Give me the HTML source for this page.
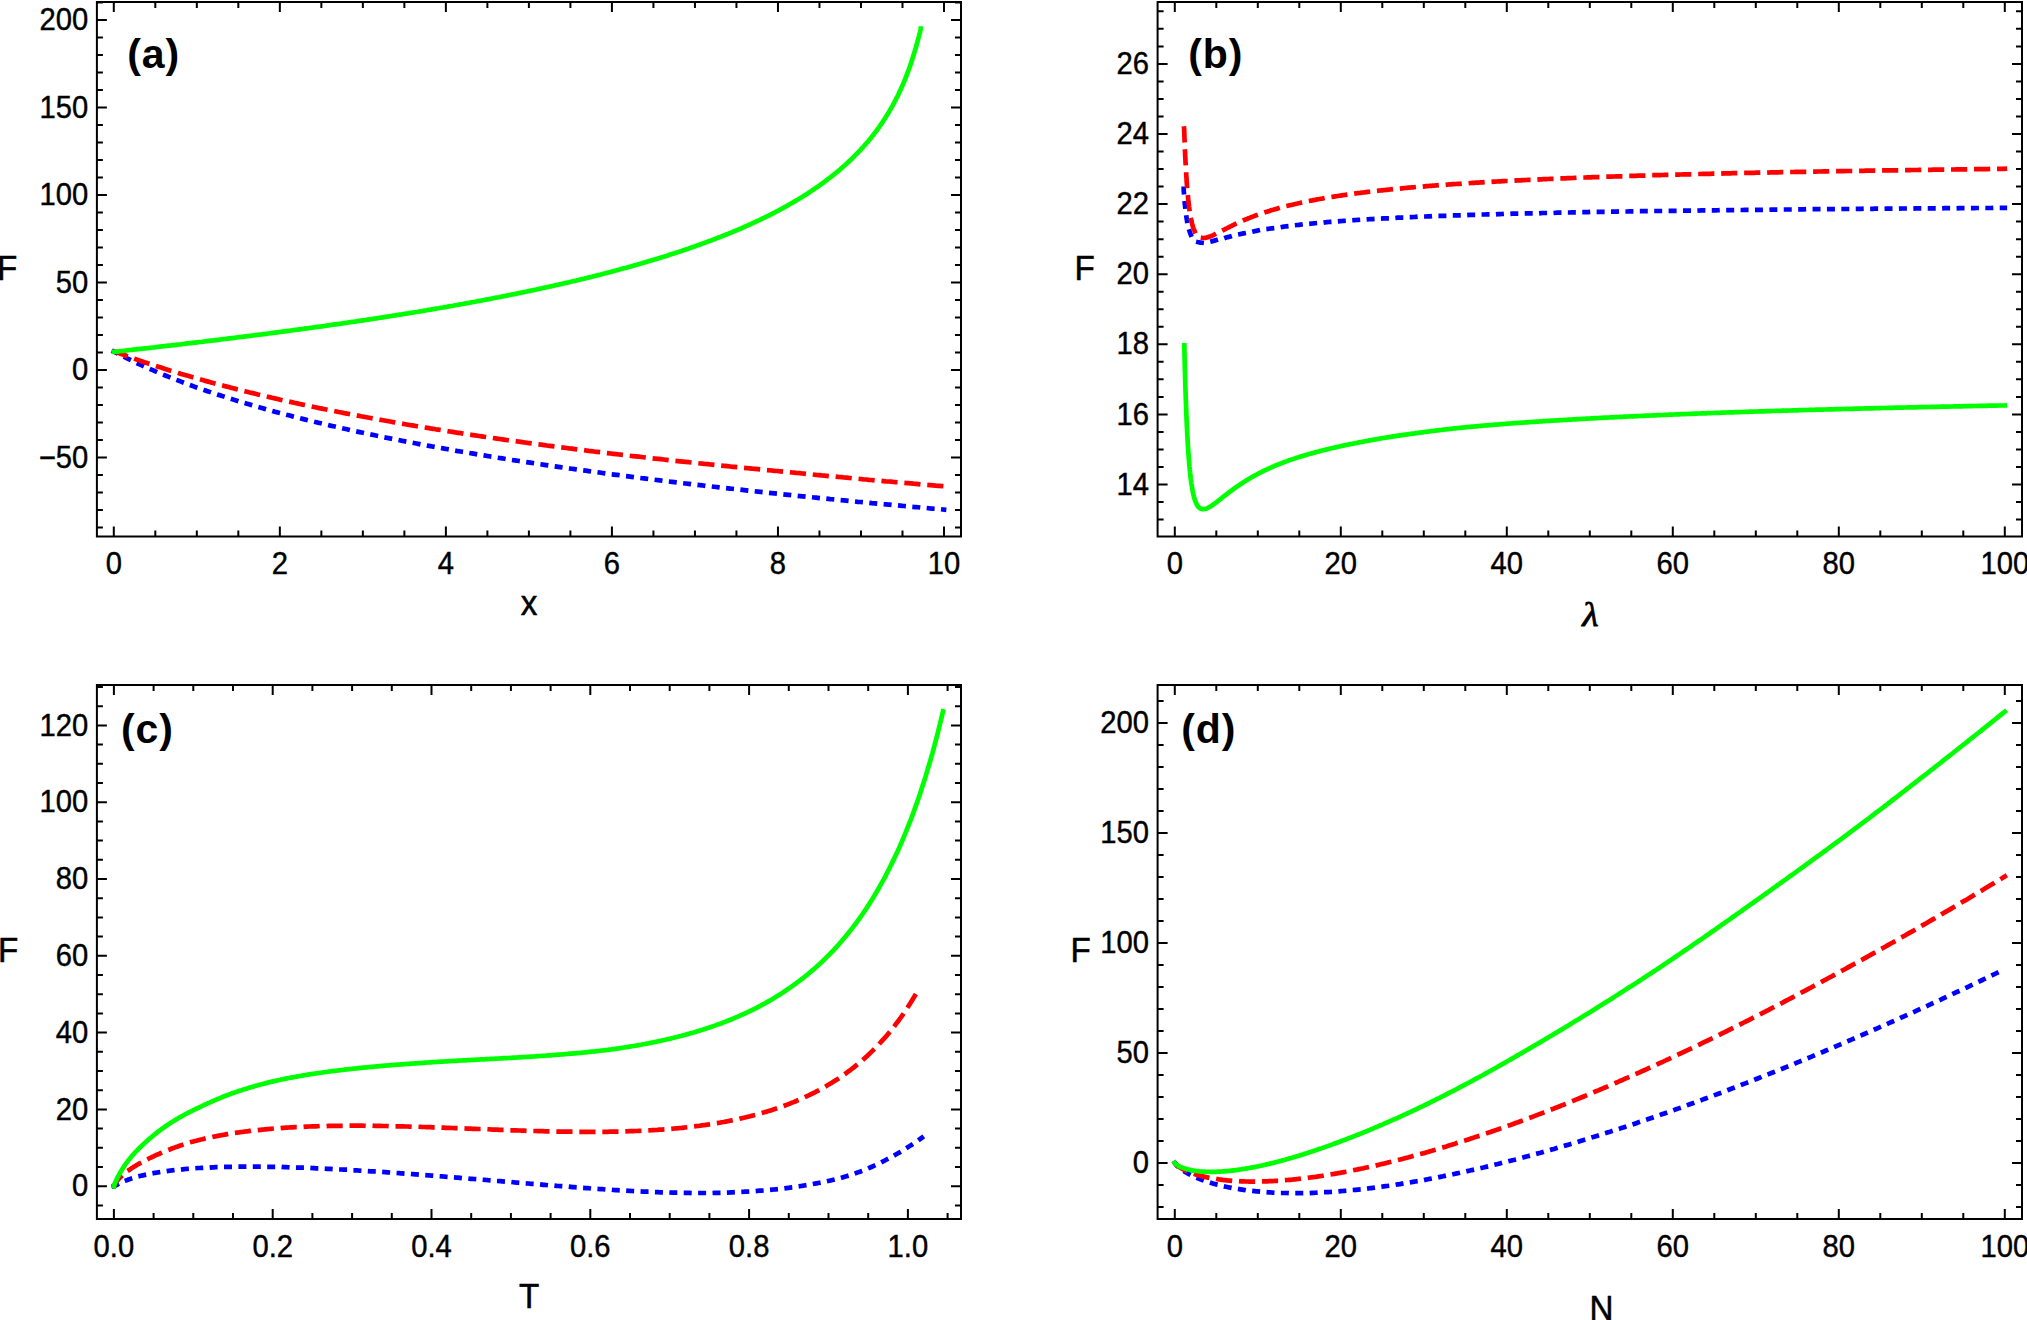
<!DOCTYPE html>
<html><head><meta charset="utf-8"><title>F plots</title>
<style>
html,body{margin:0;padding:0;background:#fff}
body{width:2027px;height:1320px;overflow:hidden}
svg{display:block}
.t{font-family:"Liberation Sans", Arial, Helvetica, sans-serif;font-size:29.2px;fill:#000;stroke:#000;stroke-width:0.4px}
.l{font-family:"Liberation Sans", Arial, Helvetica, sans-serif;font-size:33.2px;fill:#000;stroke:#000;stroke-width:0.5px}
.p{font-family:"Liberation Sans", Arial, Helvetica, sans-serif;font-size:41.0px;font-weight:bold;fill:#000;letter-spacing:0.9px}
.lam{font-family:"Liberation Serif","DejaVu Serif",serif;font-style:italic;font-size:32.8px;fill:#000;stroke:#000;stroke-width:0.8px}
</style></head><body>
<svg width="2027" height="1320" viewBox="0 0 2027 1320">
<rect width="2027" height="1320" fill="#fff"/>
<rect x="96.9" y="2" width="864.1" height="534.5" fill="none" stroke="#000" stroke-width="2"/>
<path d="M113.8 536.5v-10M113.8 2v10M155.31 536.5v-6M155.31 2v6M196.82 536.5v-6M196.82 2v6M238.33 536.5v-6M238.33 2v6M279.84 536.5v-10M279.84 2v10M321.35 536.5v-6M321.35 2v6M362.86 536.5v-6M362.86 2v6M404.37 536.5v-6M404.37 2v6M445.88 536.5v-10M445.88 2v10M487.39 536.5v-6M487.39 2v6M528.9 536.5v-6M528.9 2v6M570.41 536.5v-6M570.41 2v6M611.92 536.5v-10M611.92 2v10M653.43 536.5v-6M653.43 2v6M694.94 536.5v-6M694.94 2v6M736.45 536.5v-6M736.45 2v6M777.96 536.5v-10M777.96 2v10M819.47 536.5v-6M819.47 2v6M860.98 536.5v-6M860.98 2v6M902.49 536.5v-6M902.49 2v6M944 536.5v-10M944 2v10M96.9 527.5h6M961 527.5h-6M96.9 510h6M961 510h-6M96.9 492.5h6M961 492.5h-6M96.9 475h6M961 475h-6M96.9 457.5h10M961 457.5h-10M96.9 440h6M961 440h-6M96.9 422.5h6M961 422.5h-6M96.9 405h6M961 405h-6M96.9 387.5h6M961 387.5h-6M96.9 370h10M961 370h-10M96.9 352.5h6M961 352.5h-6M96.9 335h6M961 335h-6M96.9 317.5h6M961 317.5h-6M96.9 300h6M961 300h-6M96.9 282.5h10M961 282.5h-10M96.9 265h6M961 265h-6M96.9 247.5h6M961 247.5h-6M96.9 230h6M961 230h-6M96.9 212.5h6M961 212.5h-6M96.9 195h10M961 195h-10M96.9 177.5h6M961 177.5h-6M96.9 160h6M961 160h-6M96.9 142.5h6M961 142.5h-6M96.9 125h6M961 125h-6M96.9 107.5h10M961 107.5h-10M96.9 90h6M961 90h-6M96.9 72.5h6M961 72.5h-6M96.9 55h6M961 55h-6M96.9 37.5h6M961 37.5h-6M96.9 20h10M961 20h-10M96.9 2.5h6M961 2.5h-6" fill="none" stroke="#000" stroke-width="2"/>
<text transform="translate(113.8 574.2) scale(1 1.055)" text-anchor="middle" class="t">0</text>
<text transform="translate(279.84 574.2) scale(1 1.055)" text-anchor="middle" class="t">2</text>
<text transform="translate(445.88 574.2) scale(1 1.055)" text-anchor="middle" class="t">4</text>
<text transform="translate(611.92 574.2) scale(1 1.055)" text-anchor="middle" class="t">6</text>
<text transform="translate(777.96 574.2) scale(1 1.055)" text-anchor="middle" class="t">8</text>
<text transform="translate(944 574.2) scale(1 1.055)" text-anchor="middle" class="t">10</text>
<text transform="translate(88.3 467.6) scale(1 1.055)" text-anchor="end" class="t">−50</text>
<text transform="translate(88.3 380.1) scale(1 1.055)" text-anchor="end" class="t">0</text>
<text transform="translate(88.3 292.6) scale(1 1.055)" text-anchor="end" class="t">50</text>
<text transform="translate(88.3 205.1) scale(1 1.055)" text-anchor="end" class="t">100</text>
<text transform="translate(88.3 117.6) scale(1 1.055)" text-anchor="end" class="t">150</text>
<text transform="translate(88.3 30.1) scale(1 1.055)" text-anchor="end" class="t">200</text>
<rect x="1157.6" y="2" width="864.4" height="534.5" fill="none" stroke="#000" stroke-width="2"/>
<path d="M1174.8 536.5v-10M1174.8 2v10M1216.3 536.5v-6M1216.3 2v6M1257.8 536.5v-6M1257.8 2v6M1299.3 536.5v-6M1299.3 2v6M1340.8 536.5v-10M1340.8 2v10M1382.3 536.5v-6M1382.3 2v6M1423.8 536.5v-6M1423.8 2v6M1465.3 536.5v-6M1465.3 2v6M1506.8 536.5v-10M1506.8 2v10M1548.3 536.5v-6M1548.3 2v6M1589.8 536.5v-6M1589.8 2v6M1631.3 536.5v-6M1631.3 2v6M1672.8 536.5v-10M1672.8 2v10M1714.3 536.5v-6M1714.3 2v6M1755.8 536.5v-6M1755.8 2v6M1797.3 536.5v-6M1797.3 2v6M1838.8 536.5v-10M1838.8 2v10M1880.3 536.5v-6M1880.3 2v6M1921.8 536.5v-6M1921.8 2v6M1963.3 536.5v-6M1963.3 2v6M2004.8 536.5v-10M2004.8 2v10M1157.6 519.55h6M2022 519.55h-6M1157.6 502.02h6M2022 502.02h-6M1157.6 484.5h10M2022 484.5h-10M1157.6 466.97h6M2022 466.97h-6M1157.6 449.45h6M2022 449.45h-6M1157.6 431.92h6M2022 431.92h-6M1157.6 414.4h10M2022 414.4h-10M1157.6 396.88h6M2022 396.88h-6M1157.6 379.35h6M2022 379.35h-6M1157.6 361.82h6M2022 361.82h-6M1157.6 344.3h10M2022 344.3h-10M1157.6 326.77h6M2022 326.77h-6M1157.6 309.25h6M2022 309.25h-6M1157.6 291.73h6M2022 291.73h-6M1157.6 274.2h10M2022 274.2h-10M1157.6 256.67h6M2022 256.67h-6M1157.6 239.15h6M2022 239.15h-6M1157.6 221.62h6M2022 221.62h-6M1157.6 204.1h10M2022 204.1h-10M1157.6 186.58h6M2022 186.58h-6M1157.6 169.05h6M2022 169.05h-6M1157.6 151.52h6M2022 151.52h-6M1157.6 134h10M2022 134h-10M1157.6 116.48h6M2022 116.48h-6M1157.6 98.95h6M2022 98.95h-6M1157.6 81.42h6M2022 81.42h-6M1157.6 63.9h10M2022 63.9h-10M1157.6 46.38h6M2022 46.38h-6M1157.6 28.85h6M2022 28.85h-6M1157.6 11.33h6M2022 11.33h-6" fill="none" stroke="#000" stroke-width="2"/>
<text transform="translate(1174.8 574.2) scale(1 1.055)" text-anchor="middle" class="t">0</text>
<text transform="translate(1340.8 574.2) scale(1 1.055)" text-anchor="middle" class="t">20</text>
<text transform="translate(1506.8 574.2) scale(1 1.055)" text-anchor="middle" class="t">40</text>
<text transform="translate(1672.8 574.2) scale(1 1.055)" text-anchor="middle" class="t">60</text>
<text transform="translate(1838.8 574.2) scale(1 1.055)" text-anchor="middle" class="t">80</text>
<text transform="translate(2004.8 574.2) scale(1 1.055)" text-anchor="middle" class="t">100</text>
<text transform="translate(1149 494.6) scale(1 1.055)" text-anchor="end" class="t">14</text>
<text transform="translate(1149 424.5) scale(1 1.055)" text-anchor="end" class="t">16</text>
<text transform="translate(1149 354.4) scale(1 1.055)" text-anchor="end" class="t">18</text>
<text transform="translate(1149 284.3) scale(1 1.055)" text-anchor="end" class="t">20</text>
<text transform="translate(1149 214.2) scale(1 1.055)" text-anchor="end" class="t">22</text>
<text transform="translate(1149 144.1) scale(1 1.055)" text-anchor="end" class="t">24</text>
<text transform="translate(1149 74) scale(1 1.055)" text-anchor="end" class="t">26</text>
<rect x="96.9" y="685" width="864.1" height="534" fill="none" stroke="#000" stroke-width="2"/>
<path d="M113.9 1219v-10M113.9 685v10M153.6 1219v-6M153.6 685v6M193.3 1219v-6M193.3 685v6M233 1219v-6M233 685v6M272.7 1219v-10M272.7 685v10M312.4 1219v-6M312.4 685v6M352.1 1219v-6M352.1 685v6M391.8 1219v-6M391.8 685v6M431.5 1219v-10M431.5 685v10M471.2 1219v-6M471.2 685v6M510.9 1219v-6M510.9 685v6M550.6 1219v-6M550.6 685v6M590.3 1219v-10M590.3 685v10M630 1219v-6M630 685v6M669.7 1219v-6M669.7 685v6M709.4 1219v-6M709.4 685v6M749.1 1219v-10M749.1 685v10M788.8 1219v-6M788.8 685v6M828.5 1219v-6M828.5 685v6M868.2 1219v-6M868.2 685v6M907.9 1219v-10M907.9 685v10M947.6 1219v-6M947.6 685v6M96.9 1205.4h6M961 1205.4h-6M96.9 1186.2h10M961 1186.2h-10M96.9 1167h6M961 1167h-6M96.9 1147.8h6M961 1147.8h-6M96.9 1128.6h6M961 1128.6h-6M96.9 1109.4h10M961 1109.4h-10M96.9 1090.2h6M961 1090.2h-6M96.9 1071h6M961 1071h-6M96.9 1051.8h6M961 1051.8h-6M96.9 1032.6h10M961 1032.6h-10M96.9 1013.4h6M961 1013.4h-6M96.9 994.2h6M961 994.2h-6M96.9 975h6M961 975h-6M96.9 955.8h10M961 955.8h-10M96.9 936.6h6M961 936.6h-6M96.9 917.4h6M961 917.4h-6M96.9 898.2h6M961 898.2h-6M96.9 879h10M961 879h-10M96.9 859.8h6M961 859.8h-6M96.9 840.6h6M961 840.6h-6M96.9 821.4h6M961 821.4h-6M96.9 802.2h10M961 802.2h-10M96.9 783h6M961 783h-6M96.9 763.8h6M961 763.8h-6M96.9 744.6h6M961 744.6h-6M96.9 725.4h10M961 725.4h-10M96.9 706.2h6M961 706.2h-6M96.9 687h6M961 687h-6" fill="none" stroke="#000" stroke-width="2"/>
<text transform="translate(113.9 1256.7) scale(1 1.055)" text-anchor="middle" class="t">0.0</text>
<text transform="translate(272.7 1256.7) scale(1 1.055)" text-anchor="middle" class="t">0.2</text>
<text transform="translate(431.5 1256.7) scale(1 1.055)" text-anchor="middle" class="t">0.4</text>
<text transform="translate(590.3 1256.7) scale(1 1.055)" text-anchor="middle" class="t">0.6</text>
<text transform="translate(749.1 1256.7) scale(1 1.055)" text-anchor="middle" class="t">0.8</text>
<text transform="translate(907.9 1256.7) scale(1 1.055)" text-anchor="middle" class="t">1.0</text>
<text transform="translate(88.3 1196.3) scale(1 1.055)" text-anchor="end" class="t">0</text>
<text transform="translate(88.3 1119.5) scale(1 1.055)" text-anchor="end" class="t">20</text>
<text transform="translate(88.3 1042.7) scale(1 1.055)" text-anchor="end" class="t">40</text>
<text transform="translate(88.3 965.9) scale(1 1.055)" text-anchor="end" class="t">60</text>
<text transform="translate(88.3 889.1) scale(1 1.055)" text-anchor="end" class="t">80</text>
<text transform="translate(88.3 812.3) scale(1 1.055)" text-anchor="end" class="t">100</text>
<text transform="translate(88.3 735.5) scale(1 1.055)" text-anchor="end" class="t">120</text>
<rect x="1157.6" y="685" width="864.4" height="534" fill="none" stroke="#000" stroke-width="2"/>
<path d="M1174.8 1219v-10M1174.8 685v10M1216.3 1219v-6M1216.3 685v6M1257.8 1219v-6M1257.8 685v6M1299.3 1219v-6M1299.3 685v6M1340.8 1219v-10M1340.8 685v10M1382.3 1219v-6M1382.3 685v6M1423.8 1219v-6M1423.8 685v6M1465.3 1219v-6M1465.3 685v6M1506.8 1219v-10M1506.8 685v10M1548.3 1219v-6M1548.3 685v6M1589.8 1219v-6M1589.8 685v6M1631.3 1219v-6M1631.3 685v6M1672.8 1219v-10M1672.8 685v10M1714.3 1219v-6M1714.3 685v6M1755.8 1219v-6M1755.8 685v6M1797.3 1219v-6M1797.3 685v6M1838.8 1219v-10M1838.8 685v10M1880.3 1219v-6M1880.3 685v6M1921.8 1219v-6M1921.8 685v6M1963.3 1219v-6M1963.3 685v6M2004.8 1219v-10M2004.8 685v10M1157.6 1206.9h6M2022 1206.9h-6M1157.6 1184.9h6M2022 1184.9h-6M1157.6 1162.9h10M2022 1162.9h-10M1157.6 1140.9h6M2022 1140.9h-6M1157.6 1118.9h6M2022 1118.9h-6M1157.6 1096.9h6M2022 1096.9h-6M1157.6 1074.9h6M2022 1074.9h-6M1157.6 1052.9h10M2022 1052.9h-10M1157.6 1030.9h6M2022 1030.9h-6M1157.6 1008.9h6M2022 1008.9h-6M1157.6 986.9h6M2022 986.9h-6M1157.6 964.9h6M2022 964.9h-6M1157.6 942.9h10M2022 942.9h-10M1157.6 920.9h6M2022 920.9h-6M1157.6 898.9h6M2022 898.9h-6M1157.6 876.9h6M2022 876.9h-6M1157.6 854.9h6M2022 854.9h-6M1157.6 832.9h10M2022 832.9h-10M1157.6 810.9h6M2022 810.9h-6M1157.6 788.9h6M2022 788.9h-6M1157.6 766.9h6M2022 766.9h-6M1157.6 744.9h6M2022 744.9h-6M1157.6 722.9h10M2022 722.9h-10M1157.6 700.9h6M2022 700.9h-6" fill="none" stroke="#000" stroke-width="2"/>
<text transform="translate(1174.8 1256.7) scale(1 1.055)" text-anchor="middle" class="t">0</text>
<text transform="translate(1340.8 1256.7) scale(1 1.055)" text-anchor="middle" class="t">20</text>
<text transform="translate(1506.8 1256.7) scale(1 1.055)" text-anchor="middle" class="t">40</text>
<text transform="translate(1672.8 1256.7) scale(1 1.055)" text-anchor="middle" class="t">60</text>
<text transform="translate(1838.8 1256.7) scale(1 1.055)" text-anchor="middle" class="t">80</text>
<text transform="translate(2004.8 1256.7) scale(1 1.055)" text-anchor="middle" class="t">100</text>
<text transform="translate(1149 1173) scale(1 1.055)" text-anchor="end" class="t">0</text>
<text transform="translate(1149 1063) scale(1 1.055)" text-anchor="end" class="t">50</text>
<text transform="translate(1149 953) scale(1 1.055)" text-anchor="end" class="t">100</text>
<text transform="translate(1149 843) scale(1 1.055)" text-anchor="end" class="t">150</text>
<text transform="translate(1149 733) scale(1 1.055)" text-anchor="end" class="t">200</text>
<polyline points="113.8,351.6 116.6,353.0 119.4,354.5 122.1,355.9 124.9,357.3 127.7,358.7 130.5,360.0 133.2,361.4 136.0,362.7 138.8,364.0 141.6,365.2 144.3,366.5 147.1,367.7 149.9,369.0 152.7,370.2 155.4,371.4 158.2,372.5 161.0,373.7 163.8,374.9 166.6,376.0 169.3,377.1 172.1,378.2 174.9,379.3 177.7,380.4 180.4,381.4 183.2,382.5 186.0,383.5 188.8,384.6 191.5,385.6 194.3,386.6 197.1,387.6 199.9,388.6 202.7,389.5 205.4,390.5 208.2,391.4 211.0,392.4 213.8,393.3 216.5,394.2 219.3,395.1 222.1,396.0 224.9,396.9 227.6,397.8 230.4,398.7 233.2,399.6 236.0,400.4 238.7,401.3 241.5,402.1 244.3,403.0 247.1,403.8 249.9,404.6 252.6,405.4 255.4,406.2 258.2,407.0 261.0,407.8 263.7,408.6 266.5,409.4 269.3,410.1 272.1,410.9 274.8,411.7 277.6,412.4 280.4,413.1 283.2,413.9 285.9,414.6 288.7,415.3 291.5,416.1 294.3,416.8 297.1,417.5 299.8,418.2 302.6,418.9 305.4,419.6 308.2,420.3 310.9,420.9 313.7,421.6 316.5,422.3 319.3,423.0 322.0,423.6 324.8,424.3 327.6,424.9 330.4,425.6 333.2,426.2 335.9,426.8 338.7,427.5 341.5,428.1 344.3,428.7 347.0,429.3 349.8,430.0 352.6,430.6 355.4,431.2 358.1,431.8 360.9,432.4 363.7,433.0 366.5,433.6 369.2,434.1 372.0,434.7 374.8,435.3 377.6,435.9 380.4,436.4 383.1,437.0 385.9,437.6 388.7,438.1 391.5,438.7 394.2,439.2 397.0,439.8 399.8,440.3 402.6,440.9 405.3,441.4 408.1,441.9 410.9,442.5 413.7,443.0 416.4,443.5 419.2,444.1 422.0,444.6 424.8,445.1 427.6,445.6 430.3,446.1 433.1,446.6 435.9,447.1 438.7,447.6 441.4,448.1 444.2,448.6 447.0,449.1 449.8,449.6 452.5,450.1 455.3,450.6 458.1,451.1 460.9,451.5 463.7,452.0 466.4,452.5 469.2,453.0 472.0,453.4 474.8,453.9 477.5,454.4 480.3,454.8 483.1,455.3 485.9,455.7 488.6,456.2 491.4,456.6 494.2,457.1 497.0,457.5 499.7,458.0 502.5,458.4 505.3,458.9 508.1,459.3 510.9,459.7 513.6,460.2 516.4,460.6 519.2,461.0 522.0,461.5 524.7,461.9 527.5,462.3 530.3,462.7 533.1,463.1 535.8,463.6 538.6,464.0 541.4,464.4 544.2,464.8 546.9,465.2 549.7,465.6 552.5,466.0 555.3,466.4 558.1,466.8 560.8,467.2 563.6,467.6 566.4,468.0 569.2,468.4 571.9,468.8 574.7,469.2 577.5,469.6 580.3,470.0 583.0,470.4 585.8,470.7 588.6,471.1 591.4,471.5 594.1,471.9 596.9,472.3 599.7,472.6 602.5,473.0 605.3,473.4 608.0,473.7 610.8,474.1 613.6,474.5 616.4,474.8 619.1,475.2 621.9,475.6 624.7,475.9 627.5,476.3 630.2,476.6 633.0,477.0 635.8,477.4 638.6,477.7 641.4,478.1 644.1,478.4 646.9,478.8 649.7,479.1 652.5,479.5 655.2,479.8 658.0,480.1 660.8,480.5 663.6,480.8 666.3,481.2 669.1,481.5 671.9,481.8 674.7,482.2 677.4,482.5 680.2,482.8 683.0,483.2 685.8,483.5 688.6,483.8 691.3,484.2 694.1,484.5 696.9,484.8 699.7,485.1 702.4,485.4 705.2,485.8 708.0,486.1 710.8,486.4 713.5,486.7 716.3,487.0 719.1,487.4 721.9,487.7 724.6,488.0 727.4,488.3 730.2,488.6 733.0,488.9 735.8,489.2 738.5,489.5 741.3,489.8 744.1,490.1 746.9,490.4 749.6,490.7 752.4,491.0 755.2,491.3 758.0,491.6 760.7,491.9 763.5,492.2 766.3,492.5 769.1,492.8 771.9,493.1 774.6,493.4 777.4,493.7 780.2,494.0 783.0,494.3 785.7,494.6 788.5,494.9 791.3,495.2 794.1,495.4 796.8,495.7 799.6,496.0 802.4,496.3 805.2,496.6 807.9,496.9 810.7,497.1 813.5,497.4 816.3,497.7 819.1,498.0 821.8,498.2 824.6,498.5 827.4,498.8 830.2,499.1 832.9,499.3 835.7,499.6 838.5,499.9 841.3,500.2 844.0,500.4 846.8,500.7 849.6,501.0 852.4,501.2 855.1,501.5 857.9,501.8 860.7,502.0 863.5,502.3 866.3,502.5 869.0,502.8 871.8,503.1 874.6,503.3 877.4,503.6 880.1,503.8 882.9,504.1 885.7,504.4 888.5,504.6 891.2,504.9 894.0,505.1 896.8,505.4 899.6,505.6 902.4,505.9 905.1,506.1 907.9,506.4 910.7,506.6 913.5,506.9 916.2,507.1 919.0,507.4 921.8,507.6 924.6,507.9 927.3,508.1 930.1,508.4 932.9,508.6 935.7,508.9 938.4,509.1 941.2,509.3 944.0,509.6" fill="none" stroke="#0000ff" stroke-width="4.7" stroke-linejoin="round" stroke-linecap="square" stroke-dasharray="3.3 11.1" stroke-dashoffset="0.9"/>
<polyline points="113.8,351.2 116.6,352.3 119.4,353.3 122.1,354.3 124.9,355.3 127.7,356.4 130.5,357.3 133.2,358.3 136.0,359.3 138.8,360.3 141.6,361.2 144.3,362.2 147.1,363.1 149.9,364.0 152.7,364.9 155.4,365.8 158.2,366.7 161.0,367.6 163.8,368.5 166.6,369.4 169.3,370.3 172.1,371.1 174.9,372.0 177.7,372.8 180.4,373.7 183.2,374.5 186.0,375.3 188.8,376.1 191.5,376.9 194.3,377.7 197.1,378.5 199.9,379.3 202.7,380.1 205.4,380.9 208.2,381.6 211.0,382.4 213.8,383.2 216.5,383.9 219.3,384.6 222.1,385.4 224.9,386.1 227.6,386.8 230.4,387.6 233.2,388.3 236.0,389.0 238.7,389.7 241.5,390.4 244.3,391.1 247.1,391.8 249.9,392.5 252.6,393.1 255.4,393.8 258.2,394.5 261.0,395.1 263.7,395.8 266.5,396.5 269.3,397.1 272.1,397.8 274.8,398.4 277.6,399.0 280.4,399.7 283.2,400.3 285.9,400.9 288.7,401.5 291.5,402.1 294.3,402.8 297.1,403.4 299.8,404.0 302.6,404.6 305.4,405.1 308.2,405.7 310.9,406.3 313.7,406.9 316.5,407.5 319.3,408.1 322.0,408.6 324.8,409.2 327.6,409.8 330.4,410.3 333.2,410.9 335.9,411.4 338.7,412.0 341.5,412.5 344.3,413.1 347.0,413.6 349.8,414.1 352.6,414.7 355.4,415.2 358.1,415.7 360.9,416.3 363.7,416.8 366.5,417.3 369.2,417.8 372.0,418.3 374.8,418.8 377.6,419.3 380.4,419.8 383.1,420.3 385.9,420.8 388.7,421.3 391.5,421.8 394.2,422.3 397.0,422.8 399.8,423.3 402.6,423.7 405.3,424.2 408.1,424.7 410.9,425.2 413.7,425.6 416.4,426.1 419.2,426.6 422.0,427.0 424.8,427.5 427.6,427.9 430.3,428.4 433.1,428.8 435.9,429.3 438.7,429.7 441.4,430.2 444.2,430.6 447.0,431.1 449.8,431.5 452.5,431.9 455.3,432.4 458.1,432.8 460.9,433.2 463.7,433.7 466.4,434.1 469.2,434.5 472.0,434.9 474.8,435.3 477.5,435.7 480.3,436.2 483.1,436.6 485.9,437.0 488.6,437.4 491.4,437.8 494.2,438.2 497.0,438.6 499.7,439.0 502.5,439.4 505.3,439.8 508.1,440.2 510.9,440.6 513.6,441.0 516.4,441.3 519.2,441.7 522.0,442.1 524.7,442.5 527.5,442.9 530.3,443.2 533.1,443.6 535.8,444.0 538.6,444.4 541.4,444.7 544.2,445.1 546.9,445.5 549.7,445.8 552.5,446.2 555.3,446.6 558.1,446.9 560.8,447.3 563.6,447.6 566.4,448.0 569.2,448.4 571.9,448.7 574.7,449.1 577.5,449.4 580.3,449.8 583.0,450.1 585.8,450.4 588.6,450.8 591.4,451.1 594.1,451.5 596.9,451.8 599.7,452.1 602.5,452.5 605.3,452.8 608.0,453.2 610.8,453.5 613.6,453.8 616.4,454.1 619.1,454.5 621.9,454.8 624.7,455.1 627.5,455.4 630.2,455.8 633.0,456.1 635.8,456.4 638.6,456.7 641.4,457.0 644.1,457.3 646.9,457.7 649.7,458.0 652.5,458.3 655.2,458.6 658.0,458.9 660.8,459.2 663.6,459.5 666.3,459.8 669.1,460.1 671.9,460.4 674.7,460.7 677.4,461.0 680.2,461.3 683.0,461.6 685.8,461.9 688.6,462.2 691.3,462.5 694.1,462.8 696.9,463.1 699.7,463.4 702.4,463.7 705.2,464.0 708.0,464.2 710.8,464.5 713.5,464.8 716.3,465.1 719.1,465.4 721.9,465.7 724.6,465.9 727.4,466.2 730.2,466.5 733.0,466.8 735.8,467.0 738.5,467.3 741.3,467.6 744.1,467.9 746.9,468.1 749.6,468.4 752.4,468.7 755.2,468.9 758.0,469.2 760.7,469.5 763.5,469.7 766.3,470.0 769.1,470.3 771.9,470.5 774.6,470.8 777.4,471.0 780.2,471.3 783.0,471.6 785.7,471.9 788.5,472.1 791.3,472.4 794.1,472.7 796.8,473.0 799.6,473.2 802.4,473.5 805.2,473.8 807.9,474.0 810.7,474.3 813.5,474.6 816.3,474.9 819.1,475.1 821.8,475.4 824.6,475.6 827.4,475.9 830.2,476.2 832.9,476.4 835.7,476.7 838.5,477.0 841.3,477.2 844.0,477.5 846.8,477.7 849.6,478.0 852.4,478.2 855.1,478.5 857.9,478.8 860.7,479.0 863.5,479.3 866.3,479.5 869.0,479.8 871.8,480.0 874.6,480.3 877.4,480.5 880.1,480.8 882.9,481.0 885.7,481.3 888.5,481.5 891.2,481.7 894.0,482.0 896.8,482.2 899.6,482.5 902.4,482.7 905.1,483.0 907.9,483.2 910.7,483.4 913.5,483.7 916.2,483.9 919.0,484.2 921.8,484.4 924.6,484.6 927.3,484.9 930.1,485.1 932.9,485.3 935.7,485.6 938.4,485.8 941.2,486.0 944.0,486.3" fill="none" stroke="#ff0000" stroke-width="4.7" stroke-linejoin="round" stroke-linecap="square" stroke-dasharray="11.5 11.5" stroke-dashoffset="-1.0"/>
<polyline points="113.8,351.8 116.2,351.6 118.7,351.3 121.1,351.0 123.5,350.8 125.9,350.5 128.3,350.2 130.7,350.0 133.1,349.7 135.6,349.4 138.0,349.1 140.4,348.9 142.8,348.6 145.2,348.3 147.5,348.1 149.9,347.8 152.3,347.5 154.7,347.3 157.1,347.0 159.5,346.7 161.9,346.4 164.2,346.2 166.6,345.9 169.0,345.6 171.4,345.4 173.7,345.1 176.1,344.8 178.5,344.5 180.8,344.3 183.2,344.0 185.5,343.7 187.9,343.4 190.2,343.2 192.6,342.9 194.9,342.6 197.3,342.3 199.6,342.0 201.9,341.8 204.3,341.5 206.6,341.2 208.9,340.9 211.3,340.6 213.6,340.4 215.9,340.1 218.2,339.8 220.5,339.5 222.9,339.2 225.2,339.0 227.5,338.7 229.8,338.4 232.1,338.1 234.4,337.8 236.7,337.5 239.0,337.2 241.3,337.0 243.6,336.7 245.9,336.4 248.1,336.1 250.4,335.8 252.7,335.5 255.0,335.2 257.3,334.9 259.5,334.6 261.8,334.4 264.1,334.1 266.3,333.8 268.6,333.5 270.9,333.2 273.1,332.9 275.4,332.6 277.6,332.3 279.9,332.0 282.1,331.7 284.4,331.4 286.6,331.1 288.9,330.8 291.1,330.5 293.3,330.2 295.6,329.9 297.8,329.6 300.0,329.3 302.2,329.0 304.5,328.7 306.7,328.4 308.9,328.1 311.1,327.8 313.3,327.5 315.5,327.2 317.7,326.9 319.9,326.6 322.1,326.3 324.3,326.0 326.5,325.6 328.7,325.3 330.9,325.0 333.1,324.7 335.3,324.4 337.4,324.1 339.6,323.8 341.8,323.5 344.0,323.2 346.1,322.8 348.3,322.5 350.5,322.2 352.6,321.9 354.8,321.6 356.9,321.2 359.1,320.9 361.2,320.6 363.4,320.3 365.5,320.0 367.7,319.6 369.8,319.3 372.0,319.0 374.1,318.7 376.2,318.3 378.3,318.0 380.5,317.7 382.6,317.4 384.7,317.0 386.8,316.7 388.9,316.4 391.1,316.0 393.2,315.7 395.3,315.4 397.4,315.0 399.5,314.7 401.6,314.4 403.7,314.0 405.8,313.7 407.8,313.4 409.9,313.0 412.0,312.7 414.1,312.3 416.2,312.0 418.2,311.7 420.3,311.3 422.4,311.0 424.5,310.6 426.5,310.3 428.6,309.9 430.6,309.6 432.7,309.2 434.7,308.9 436.8,308.5 438.8,308.2 440.9,307.8 442.9,307.5 445.0,307.1 447.0,306.8 449.0,306.4 451.1,306.0 453.1,305.7 455.1,305.3 457.1,305.0 459.1,304.6 461.2,304.2 463.2,303.9 465.2,303.5 467.2,303.1 469.2,302.8 471.2,302.4 473.2,302.0 475.2,301.7 477.2,301.3 479.2,300.9 481.1,300.6 483.1,300.2 485.1,299.8 487.1,299.4 489.0,299.1 491.0,298.7 493.0,298.3 494.9,297.9 496.9,297.5 498.9,297.2 500.8,296.8 502.8,296.4 504.7,296.0 506.7,295.6 508.6,295.2 510.5,294.8 512.5,294.4 514.4,294.1 516.3,293.7 518.3,293.3 520.2,292.9 522.1,292.5 524.0,292.1 526.0,291.7 527.9,291.3 529.8,290.9 531.7,290.5 533.6,290.1 535.5,289.7 537.4,289.3 539.3,288.9 541.2,288.4 543.0,288.0 544.9,287.6 546.8,287.2 548.7,286.8 550.6,286.4 552.4,286.0 554.3,285.6 556.2,285.1 558.0,284.7 559.9,284.3 561.7,283.9 563.6,283.4 565.4,283.0 567.3,282.6 569.1,282.2 571.0,281.7 572.8,281.3 574.6,280.9 576.5,280.4 578.3,280.0 580.1,279.6 581.9,279.1 583.8,278.7 585.6,278.2 587.4,277.8 589.2,277.4 591.0,276.9 592.8,276.5 594.6,276.0 596.4,275.6 598.2,275.1 600.0,274.7 601.8,274.2 603.5,273.7 605.3,273.3 607.1,272.8 608.9,272.4 610.6,271.9 612.4,271.4 614.1,271.0 615.9,270.5 617.7,270.0 619.4,269.6 621.2,269.1 622.9,268.6 624.6,268.1 626.4,267.7 628.1,267.2 629.8,266.7 631.6,266.2 633.3,265.7 635.0,265.2 636.7,264.8 638.4,264.3 640.2,263.8 641.9,263.3 643.6,262.8 645.3,262.3 647.0,261.8 648.6,261.3 650.3,260.8 652.0,260.3 653.7,259.8 655.4,259.3 657.1,258.8 658.7,258.2 660.4,257.7 662.1,257.2 663.7,256.7 665.4,256.2 667.0,255.7 668.7,255.1 670.3,254.6 672.0,254.1 673.6,253.6 675.2,253.0 676.9,252.5 678.5,251.9 680.1,251.4 681.8,250.9 683.4,250.3 685.0,249.8 686.6,249.2 688.2,248.7 689.8,248.1 691.4,247.6 693.0,247.0 694.6,246.5 696.2,245.9 697.8,245.3 699.3,244.8 700.9,244.2 702.5,243.6 704.1,243.1 705.6,242.5 707.2,241.9 708.7,241.3 710.3,240.8 711.8,240.2 713.4,239.6 714.9,239.0 716.5,238.4 718.0,237.8 719.5,237.2 721.1,236.6 722.6,236.0 724.1,235.4 725.6,234.8 727.1,234.2 728.6,233.6 730.2,233.0 731.7,232.4 733.1,231.7 734.6,231.1 736.1,230.5 737.6,229.9 739.1,229.2 740.6,228.6 742.0,228.0 743.5,227.3 745.0,226.7 746.4,226.0 747.9,225.4 749.3,224.7 750.8,224.1 752.2,223.4 753.7,222.7 755.1,222.1 756.5,221.4 758.0,220.7 759.4,220.1 760.8,219.4 762.2,218.7 763.6,218.0 765.0,217.3 766.4,216.6 767.8,216.0 769.2,215.3 770.6,214.6 772.0,213.8 773.4,213.1 774.8,212.4 776.1,211.7 777.5,211.0 778.9,210.3 780.2,209.5 781.6,208.8 782.9,208.1 784.3,207.3 785.6,206.6 787.0,205.9 788.3,205.1 789.6,204.3 791.0,203.6 792.3,202.8 793.6,202.1 794.9,201.3 796.2,200.5 797.5,199.7 798.8,199.0 800.1,198.2 801.4,197.4 802.7,196.6 803.9,195.8 805.2,195.0 806.5,194.2 807.8,193.4 809.0,192.5 810.3,191.7 811.5,190.9 812.8,190.0 814.0,189.2 815.2,188.4 816.5,187.5 817.7,186.7 818.9,185.8 820.1,184.9 821.4,184.1 822.6,183.2 823.8,182.3 825.0,181.4 826.2,180.5 827.3,179.6 828.5,178.7 829.7,177.8 830.9,176.9 832.1,176.0 833.2,175.1 834.4,174.1 835.5,173.2 836.7,172.3 837.8,171.3 839.0,170.4 840.1,169.4 841.2,168.4 842.3,167.5 843.4,166.5 844.6,165.5 845.7,164.5 846.8,163.5 847.9,162.5 848.9,161.5 850.0,160.4 851.1,159.4 852.2,158.4 853.3,157.3 854.3,156.3 855.4,155.2 856.4,154.2 857.5,153.1 858.5,152.0 859.5,150.9 860.6,149.8 861.6,148.7 862.6,147.6 863.6,146.5 864.6,145.3 865.6,144.2 866.6,143.0 867.6,141.9 868.6,140.7 869.6,139.5 870.5,138.4 871.5,137.2 872.4,136.0 873.4,134.8 874.3,133.5 875.3,132.3 876.2,131.1 877.1,129.8 878.1,128.5 879.0,127.3 879.9,126.0 880.8,124.7 881.7,123.4 882.6,122.1 883.4,120.8 884.3,119.4 885.2,118.1 886.0,116.7 886.9,115.4 887.7,114.0 888.6,112.6 889.4,111.2 890.2,109.8 891.0,108.4 891.8,106.9 892.7,105.5 893.4,104.0 894.2,102.6 895.0,101.1 895.8,99.6 896.5,98.1 897.3,96.6 898.1,95.0 898.8,93.5 899.5,91.9 900.3,90.4 901.0,88.8 901.7,87.2 902.4,85.6 903.1,84.0 903.8,82.4 904.4,80.8 905.1,79.2 905.8,77.5 906.4,75.9 907.0,74.2 907.7,72.5 908.3,70.9 908.9,69.2 909.5,67.5 910.1,65.8 910.7,64.1 911.2,62.5 911.8,60.8 912.3,59.1 912.9,57.4 913.4,55.7 913.9,54.0 914.4,52.4 914.9,50.7 915.4,49.1 915.9,47.4 916.3,45.8 916.8,44.3 917.2,42.7 917.6,41.2 918.0,39.7 918.4,38.2 918.8,36.8 919.1,35.5 919.4,34.1 919.8,32.9 920.1,31.7 920.3,30.6 920.6,29.6 920.8,28.7 920.8,28.6" fill="none" stroke="#00ff00" stroke-width="4.7" stroke-linejoin="round" stroke-linecap="square"/>
<polyline points="1183.7,188.9 1183.7,189.8 1183.8,190.7 1183.8,191.6 1183.9,192.5 1184.0,193.4 1184.0,194.4 1184.1,195.2 1184.2,196.1 1184.2,197.0 1184.3,198.0 1184.4,199.0 1184.5,200.1 1184.6,200.9 1184.6,201.8 1184.7,202.6 1184.8,203.5 1184.9,204.4 1185.0,205.3 1185.1,206.2 1185.2,207.2 1185.3,208.1 1185.4,209.1 1185.5,210.0 1185.6,211.0 1185.7,211.9 1185.8,212.9 1186.0,213.9 1186.1,214.9 1186.2,215.8 1186.4,216.8 1186.5,217.7 1186.7,218.7 1186.8,219.6 1187.0,220.6 1187.1,221.5 1187.3,222.4 1187.5,223.3 1187.7,224.2 1187.9,225.1 1188.0,225.9 1188.2,226.7 1188.4,227.6 1188.6,228.4 1188.9,229.1 1189.2,230.1 1189.5,231.1 1189.8,232.0 1190.1,232.9 1190.4,233.8 1190.8,234.6 1191.1,235.4 1191.5,236.1 1192.0,236.9 1192.5,237.7 1193.0,238.4 1193.5,239.1 1194.1,239.7 1194.8,240.3 1195.5,240.9 1196.2,241.4 1197.0,241.8 1197.8,242.1 1198.7,242.3 1199.6,242.5 1200.5,242.7 1201.4,242.7 1202.2,242.8 1203.1,242.7 1203.9,242.7 1204.8,242.6 1205.7,242.5 1206.7,242.3 1207.6,242.2 1208.4,242.0 1209.2,241.9 1210.1,241.7 1210.9,241.5 1211.8,241.3 1212.6,241.1 1213.5,240.9 1214.5,240.6 1215.4,240.4 1216.3,240.1 1217.3,239.9 1218.3,239.6 1219.3,239.3 1220.3,239.1 1221.1,238.9 1221.9,238.7 1222.7,238.4 1223.5,238.2 1224.4,238.0 1225.2,237.8 1226.1,237.6 1226.9,237.3 1227.8,237.1 1228.7,236.9 1229.6,236.7 1230.5,236.4 1231.4,236.2 1232.3,236.0 1233.3,235.7 1234.2,235.5 1235.2,235.3 1236.2,235.0 1237.2,234.8 1238.2,234.6 1239.2,234.3 1240.2,234.1 1241.3,233.9 1242.4,233.6 1243.4,233.4 1244.5,233.2 1245.6,233.0 1246.7,232.7 1247.8,232.5 1249.0,232.3 1250.1,232.0 1251.3,231.8 1252.5,231.6 1253.2,231.4 1254.0,231.3 1254.8,231.1 1255.7,231.0 1256.5,230.8 1257.3,230.7 1258.1,230.5 1258.9,230.4 1259.8,230.3 1260.6,230.1 1261.5,230.0 1262.3,229.8 1263.2,229.7 1264.1,229.5 1265.0,229.4 1265.8,229.2 1266.7,229.1 1267.6,229.0 1268.5,228.8 1269.4,228.7 1270.4,228.5 1271.3,228.4 1272.2,228.3 1273.1,228.1 1274.1,228.0 1275.0,227.8 1276.0,227.7 1277.0,227.6 1277.9,227.4 1278.9,227.3 1279.9,227.2 1280.9,227.0 1281.9,226.9 1282.9,226.8 1283.9,226.6 1284.9,226.5 1285.9,226.4 1286.9,226.3 1288.0,226.1 1289.0,226.0 1290.1,225.9 1291.1,225.7 1292.2,225.6 1293.3,225.5 1294.3,225.4 1295.4,225.2 1296.5,225.1 1297.6,225.0 1298.7,224.9 1299.8,224.8 1301.0,224.6 1302.1,224.5 1303.2,224.4 1304.4,224.3 1305.5,224.2 1306.7,224.0 1307.8,223.9 1309.0,223.8 1310.2,223.7 1311.4,223.6 1312.6,223.5 1313.8,223.3 1315.0,223.2 1316.2,223.1 1317.4,223.0 1318.6,222.9 1319.9,222.8 1321.1,222.7 1322.4,222.6 1323.6,222.5 1324.9,222.4 1326.2,222.2 1327.5,222.1 1328.7,222.0 1330.0,221.9 1331.3,221.8 1332.7,221.7 1334.0,221.6 1335.3,221.5 1336.7,221.4 1338.0,221.3 1339.4,221.2 1340.7,221.1 1342.1,221.0 1343.5,220.9 1344.8,220.8 1346.2,220.7 1347.6,220.6 1349.0,220.5 1350.5,220.4 1351.9,220.3 1353.3,220.2 1354.8,220.1 1356.2,220.0 1357.7,219.9 1359.1,219.8 1360.6,219.8 1362.1,219.7 1363.6,219.6 1365.1,219.5 1366.6,219.4 1368.1,219.3 1369.6,219.2 1371.2,219.1 1372.7,219.0 1374.2,218.9 1375.8,218.9 1377.4,218.8 1378.9,218.7 1380.5,218.6 1382.1,218.5 1383.7,218.4 1384.5,218.4 1385.3,218.3 1386.1,218.3 1386.9,218.3 1387.8,218.2 1388.6,218.2 1389.4,218.1 1390.2,218.1 1391.0,218.1 1391.8,218.0 1392.7,218.0 1393.5,217.9 1394.3,217.9 1395.2,217.9 1396.0,217.8 1396.8,217.8 1397.7,217.7 1398.5,217.7 1399.3,217.7 1400.2,217.6 1401.0,217.6 1401.9,217.5 1402.7,217.5 1403.6,217.5 1404.4,217.4 1405.3,217.4 1406.2,217.3 1407.0,217.3 1407.9,217.3 1408.7,217.2 1409.6,217.2 1410.5,217.1 1411.4,217.1 1412.2,217.1 1413.1,217.0 1414.0,217.0 1414.9,217.0 1415.8,216.9 1416.6,216.9 1417.5,216.8 1418.4,216.8 1419.3,216.8 1420.2,216.7 1421.1,216.7 1422.0,216.7 1422.9,216.6 1423.8,216.6 1424.7,216.5 1425.6,216.5 1426.5,216.5 1427.5,216.4 1428.4,216.4 1429.3,216.4 1430.2,216.3 1431.1,216.3 1432.1,216.3 1433.0,216.2 1433.9,216.2 1434.9,216.1 1435.8,216.1 1436.7,216.1 1437.7,216.0 1438.6,216.0 1439.5,216.0 1440.5,215.9 1441.4,215.9 1442.4,215.9 1443.3,215.8 1444.3,215.8 1445.3,215.8 1446.2,215.7 1447.2,215.7 1448.1,215.7 1449.1,215.6 1450.1,215.6 1451.1,215.6 1452.0,215.5 1453.0,215.5 1454.0,215.5 1455.0,215.4 1455.9,215.4 1456.9,215.4 1457.9,215.3 1458.9,215.3 1459.9,215.3 1460.9,215.2 1461.9,215.2 1462.9,215.2 1463.9,215.1 1464.9,215.1 1465.9,215.1 1466.9,215.0 1467.9,215.0 1468.9,215.0 1470.0,214.9 1471.0,214.9 1472.0,214.9 1473.0,214.9 1474.1,214.8 1475.1,214.8 1476.1,214.8 1477.2,214.7 1478.2,214.7 1479.2,214.7 1480.3,214.6 1481.3,214.6 1482.4,214.6 1483.4,214.5 1484.5,214.5 1485.5,214.5 1486.6,214.4 1487.6,214.4 1488.7,214.4 1489.8,214.4 1490.8,214.3 1491.9,214.3 1493.0,214.3 1494.0,214.2 1495.1,214.2 1496.2,214.2 1497.3,214.2 1498.3,214.1 1499.4,214.1 1500.5,214.1 1501.6,214.0 1502.7,214.0 1503.8,214.0 1504.9,213.9 1506.0,213.9 1507.1,213.9 1508.2,213.9 1509.3,213.8 1510.4,213.8 1511.5,213.8 1512.7,213.7 1513.8,213.7 1514.9,213.7 1516.0,213.7 1517.1,213.6 1518.3,213.6 1519.4,213.6 1520.5,213.6 1521.7,213.5 1522.8,213.5 1524.0,213.5 1525.1,213.4 1526.2,213.4 1527.4,213.4 1528.5,213.4 1529.7,213.3 1530.9,213.3 1532.0,213.3 1533.2,213.3 1534.3,213.2 1535.5,213.2 1536.7,213.2 1537.8,213.2 1539.0,213.1 1540.2,213.1 1541.4,213.1 1542.6,213.0 1543.7,213.0 1544.9,213.0 1546.1,213.0 1547.3,212.9 1548.5,212.9 1549.7,212.9 1550.9,212.9 1552.1,212.8 1553.3,212.8 1554.5,212.8 1555.7,212.8 1557.0,212.7 1558.2,212.7 1559.4,212.7 1560.6,212.7 1561.8,212.6 1563.1,212.6 1564.3,212.6 1565.5,212.6 1566.8,212.5 1568.0,212.5 1569.2,212.5 1570.5,212.5 1571.7,212.4 1573.0,212.4 1574.2,212.4 1575.5,212.4 1576.7,212.3 1578.0,212.3 1579.3,212.3 1580.5,212.3 1581.8,212.2 1583.1,212.2 1584.3,212.2 1585.6,212.2 1586.9,212.2 1588.2,212.1 1589.4,212.1 1590.7,212.1 1592.0,212.1 1593.3,212.0 1594.6,212.0 1595.9,212.0 1597.2,212.0 1598.5,211.9 1599.8,211.9 1601.1,211.9 1602.4,211.9 1603.7,211.9 1605.1,211.8 1606.4,211.8 1607.7,211.8 1609.0,211.8 1610.4,211.7 1611.7,211.7 1613.0,211.7 1614.3,211.7 1615.7,211.7 1617.0,211.6 1618.4,211.6 1619.7,211.6 1621.1,211.6 1622.4,211.5 1623.8,211.5 1625.1,211.5 1626.5,211.5 1627.9,211.5 1629.2,211.4 1630.6,211.4 1632.0,211.4 1633.3,211.4 1634.7,211.4 1636.1,211.3 1637.5,211.3 1638.9,211.3 1640.2,211.3 1641.6,211.2 1643.0,211.2 1644.4,211.2 1645.8,211.2 1647.2,211.2 1648.6,211.1 1650.0,211.1 1651.5,211.1 1652.9,211.1 1654.3,211.1 1655.7,211.0 1657.1,211.0 1658.6,211.0 1660.0,211.0 1661.4,211.0 1662.8,210.9 1664.3,210.9 1665.7,210.9 1667.2,210.9 1668.6,210.9 1670.1,210.8 1671.5,210.8 1673.0,210.8 1674.4,210.8 1675.9,210.8 1677.3,210.7 1678.8,210.7 1680.3,210.7 1681.7,210.7 1683.2,210.7 1684.7,210.6 1686.2,210.6 1687.7,210.6 1689.1,210.6 1690.6,210.6 1692.1,210.5 1693.6,210.5 1695.1,210.5 1696.6,210.5 1698.1,210.5 1699.6,210.5 1701.1,210.4 1702.6,210.4 1704.2,210.4 1705.7,210.4 1707.2,210.4 1708.7,210.3 1710.3,210.3 1711.8,210.3 1713.3,210.3 1714.9,210.3 1716.4,210.3 1717.9,210.2 1719.5,210.2 1721.0,210.2 1722.6,210.2 1724.1,210.2 1725.7,210.1 1727.2,210.1 1728.8,210.1 1730.4,210.1 1731.9,210.1 1733.5,210.1 1735.1,210.0 1736.7,210.0 1738.2,210.0 1739.8,210.0 1741.4,210.0 1743.0,210.0 1744.6,209.9 1746.2,209.9 1747.8,209.9 1749.4,209.9 1751.0,209.9 1752.6,209.8 1754.2,209.8 1755.8,209.8 1757.4,209.8 1759.1,209.8 1760.7,209.8 1762.3,209.7 1763.9,209.7 1765.6,209.7 1767.2,209.7 1768.8,209.7 1770.5,209.7 1772.1,209.6 1773.8,209.6 1775.4,209.6 1777.1,209.6 1778.7,209.6 1780.4,209.6 1782.1,209.5 1783.7,209.5 1785.4,209.5 1787.1,209.5 1788.7,209.5 1790.4,209.5 1792.1,209.5 1793.8,209.4 1795.5,209.4 1797.2,209.4 1798.9,209.4 1800.6,209.4 1802.3,209.4 1804.0,209.3 1805.7,209.3 1807.4,209.3 1809.1,209.3 1810.8,209.3 1812.5,209.3 1814.2,209.2 1816.0,209.2 1817.7,209.2 1819.4,209.2 1821.2,209.2 1822.9,209.2 1824.6,209.2 1826.4,209.1 1828.1,209.1 1829.9,209.1 1831.6,209.1 1833.4,209.1 1835.1,209.1 1836.9,209.0 1838.7,209.0 1840.4,209.0 1842.2,209.0 1844.0,209.0 1845.8,209.0 1847.6,209.0 1849.3,208.9 1851.1,208.9 1852.9,208.9 1854.7,208.9 1856.5,208.9 1858.3,208.9 1860.1,208.9 1861.9,208.8 1863.7,208.8 1865.6,208.8 1867.4,208.8 1869.2,208.8 1871.0,208.8 1872.8,208.8 1874.7,208.7 1876.5,208.7 1878.3,208.7 1880.2,208.7 1882.0,208.7 1883.9,208.7 1885.7,208.7 1887.6,208.6 1889.4,208.6 1891.3,208.6 1893.1,208.6 1895.0,208.6 1896.9,208.6 1898.8,208.6 1900.6,208.6 1902.5,208.5 1904.4,208.5 1906.3,208.5 1908.2,208.5 1910.1,208.5 1912.0,208.5 1913.9,208.5 1915.8,208.4 1917.7,208.4 1919.6,208.4 1921.5,208.4 1923.4,208.4 1925.3,208.4 1927.2,208.4 1929.2,208.3 1931.1,208.3 1933.0,208.3 1935.0,208.3 1936.9,208.3 1938.8,208.3 1940.8,208.3 1942.7,208.3 1944.7,208.2 1946.6,208.2 1948.6,208.2 1950.6,208.2 1952.5,208.2 1954.5,208.2 1956.5,208.2 1958.4,208.2 1960.4,208.1 1962.4,208.1 1964.4,208.1 1966.4,208.1 1968.4,208.1 1970.4,208.1 1972.4,208.1 1974.4,208.1 1976.4,208.0 1978.4,208.0 1980.4,208.0 1982.4,208.0 1984.4,208.0 1986.4,208.0 1988.5,208.0 1990.5,208.0 1992.5,207.9 1994.6,207.9 1996.6,207.9 1998.7,207.9 2000.7,207.9 2002.7,207.9 2004.8,207.9" fill="none" stroke="#0000ff" stroke-width="4.7" stroke-linejoin="round" stroke-linecap="square" stroke-dasharray="3.3 11.1"/>
<polyline points="1184.1,128.6 1184.2,129.5 1184.2,130.3 1184.2,131.3 1184.3,132.1 1184.3,133.1 1184.3,134.1 1184.4,135.0 1184.4,135.9 1184.4,136.8 1184.5,137.8 1184.5,138.9 1184.5,140.0 1184.6,141.1 1184.6,141.9 1184.7,142.7 1184.7,143.6 1184.7,144.5 1184.8,145.3 1184.8,146.3 1184.8,147.2 1184.9,148.1 1184.9,149.1 1185.0,150.1 1185.0,151.1 1185.1,152.2 1185.1,153.2 1185.1,154.3 1185.2,155.4 1185.2,156.5 1185.3,157.6 1185.4,158.7 1185.4,159.9 1185.5,161.0 1185.5,162.2 1185.6,163.4 1185.7,164.6 1185.7,165.8 1185.8,167.0 1185.9,168.3 1185.9,169.5 1186.0,170.7 1186.1,172.0 1186.2,173.2 1186.2,174.5 1186.3,175.8 1186.4,177.0 1186.5,178.3 1186.6,179.6 1186.6,180.8 1186.7,182.1 1186.8,183.4 1186.9,184.6 1187.0,185.9 1187.1,187.1 1187.2,188.4 1187.3,189.6 1187.4,190.9 1187.5,192.1 1187.6,193.3 1187.7,194.6 1187.9,195.8 1188.0,197.0 1188.1,198.1 1188.2,199.3 1188.3,200.5 1188.5,201.6 1188.6,202.8 1188.7,203.9 1188.9,205.0 1189.0,206.1 1189.1,207.1 1189.3,208.2 1189.4,209.2 1189.5,210.3 1189.7,211.3 1189.8,212.3 1190.0,213.2 1190.2,214.2 1190.3,215.1 1190.5,216.1 1190.6,216.9 1190.8,217.8 1191.0,218.7 1191.1,219.5 1191.3,220.4 1191.5,221.2 1191.7,221.9 1191.9,223.1 1192.2,224.2 1192.5,225.2 1192.8,226.2 1193.1,227.2 1193.4,228.1 1193.7,228.9 1194.1,229.8 1194.4,230.5 1194.7,231.3 1195.2,232.2 1195.7,233.0 1196.2,233.8 1196.7,234.5 1197.2,235.1 1197.8,235.8 1198.5,236.4 1199.2,236.9 1199.9,237.3 1200.7,237.6 1201.5,237.8 1202.3,237.9 1203.1,238.0 1203.9,238.0 1204.8,237.9 1205.7,237.8 1206.6,237.6 1207.6,237.3 1208.4,237.1 1209.2,236.8 1210.0,236.5 1210.8,236.2 1211.6,235.8 1212.5,235.5 1213.4,235.1 1214.3,234.6 1215.2,234.2 1216.2,233.7 1217.1,233.3 1217.8,232.9 1218.6,232.5 1219.3,232.1 1220.1,231.7 1220.9,231.3 1221.6,230.9 1222.4,230.5 1223.2,230.1 1224.1,229.7 1224.9,229.3 1225.7,228.8 1226.6,228.4 1227.4,228.0 1228.3,227.5 1229.2,227.1 1230.1,226.6 1231.0,226.2 1231.9,225.7 1232.9,225.3 1233.8,224.8 1234.8,224.3 1235.7,223.9 1236.7,223.4 1237.7,223.0 1238.7,222.5 1239.7,222.1 1240.8,221.6 1241.8,221.1 1242.9,220.7 1243.9,220.2 1245.0,219.7 1246.1,219.3 1247.2,218.8 1248.0,218.5 1248.7,218.2 1249.5,217.9 1250.2,217.6 1251.0,217.3 1251.8,217.0 1252.6,216.7 1253.3,216.4 1254.1,216.1 1254.9,215.8 1255.7,215.5 1256.6,215.2 1257.4,214.9 1258.2,214.6 1259.0,214.3 1259.9,214.0 1260.7,213.7 1261.6,213.5 1262.4,213.2 1263.3,212.9 1264.1,212.6 1265.0,212.3 1265.9,212.0 1266.8,211.7 1267.7,211.4 1268.6,211.2 1269.5,210.9 1270.4,210.6 1271.3,210.3 1272.2,210.0 1273.2,209.8 1274.1,209.5 1275.0,209.2 1276.0,208.9 1277.0,208.7 1277.9,208.4 1278.9,208.1 1279.9,207.8 1280.9,207.6 1281.8,207.3 1282.8,207.0 1283.8,206.8 1284.9,206.5 1285.9,206.3 1286.9,206.0 1287.9,205.7 1289.0,205.5 1290.0,205.2 1291.1,205.0 1292.1,204.7 1293.2,204.5 1294.3,204.2 1295.4,204.0 1296.4,203.7 1297.5,203.5 1298.6,203.2 1299.7,203.0 1300.9,202.7 1302.0,202.5 1303.1,202.2 1304.3,202.0 1305.4,201.8 1306.5,201.5 1307.7,201.3 1308.9,201.1 1310.0,200.8 1311.2,200.6 1312.4,200.4 1313.6,200.1 1314.8,199.9 1316.0,199.7 1317.2,199.4 1318.5,199.2 1319.7,199.0 1320.9,198.8 1322.2,198.6 1323.4,198.3 1324.7,198.1 1326.0,197.9 1327.3,197.7 1328.5,197.5 1329.8,197.3 1331.1,197.0 1332.5,196.8 1333.8,196.6 1335.1,196.4 1336.4,196.2 1337.8,196.0 1339.1,195.8 1340.5,195.6 1341.8,195.4 1343.2,195.2 1344.6,195.0 1346.0,194.8 1347.4,194.6 1348.8,194.4 1350.2,194.2 1351.6,194.0 1353.0,193.8 1354.5,193.6 1355.9,193.4 1357.4,193.2 1358.8,193.0 1360.3,192.9 1361.8,192.7 1363.3,192.5 1364.8,192.3 1366.3,192.1 1367.8,191.9 1369.3,191.8 1370.8,191.6 1372.3,191.4 1373.9,191.2 1375.4,191.0 1377.0,190.9 1378.6,190.7 1380.1,190.5 1381.7,190.3 1382.5,190.3 1383.3,190.2 1384.1,190.1 1384.9,190.0 1385.7,189.9 1386.5,189.8 1387.4,189.8 1388.2,189.7 1389.0,189.6 1389.8,189.5 1390.6,189.4 1391.4,189.3 1392.3,189.2 1393.1,189.2 1393.9,189.1 1394.7,189.0 1395.6,188.9 1396.4,188.8 1397.2,188.8 1398.1,188.7 1398.9,188.6 1399.7,188.5 1400.6,188.4 1401.4,188.4 1402.3,188.3 1403.1,188.2 1404.0,188.1 1404.8,188.0 1405.7,188.0 1406.6,187.9 1407.4,187.8 1408.3,187.7 1409.1,187.6 1410.0,187.6 1410.9,187.5 1411.8,187.4 1412.6,187.3 1413.5,187.3 1414.4,187.2 1415.3,187.1 1416.2,187.0 1417.0,187.0 1417.9,186.9 1418.8,186.8 1419.7,186.7 1420.6,186.7 1421.5,186.6 1422.4,186.5 1423.3,186.4 1424.2,186.4 1425.1,186.3 1426.0,186.2 1426.9,186.1 1427.8,186.1 1428.8,186.0 1429.7,185.9 1430.6,185.8 1431.5,185.8 1432.4,185.7 1433.4,185.6 1434.3,185.6 1435.2,185.5 1436.2,185.4 1437.1,185.3 1438.0,185.3 1439.0,185.2 1439.9,185.1 1440.9,185.1 1441.8,185.0 1442.8,184.9 1443.7,184.9 1444.7,184.8 1445.6,184.7 1446.6,184.6 1447.6,184.6 1448.5,184.5 1449.5,184.4 1450.5,184.4 1451.4,184.3 1452.4,184.2 1453.4,184.2 1454.3,184.1 1455.3,184.0 1456.3,184.0 1457.3,183.9 1458.3,183.8 1459.3,183.8 1460.3,183.7 1461.3,183.6 1462.3,183.6 1463.3,183.5 1464.3,183.4 1465.3,183.4 1466.3,183.3 1467.3,183.2 1468.3,183.2 1469.3,183.1 1470.3,183.1 1471.3,183.0 1472.4,182.9 1473.4,182.9 1474.4,182.8 1475.4,182.7 1476.5,182.7 1477.5,182.6 1478.5,182.6 1479.6,182.5 1480.6,182.4 1481.7,182.4 1482.7,182.3 1483.8,182.2 1484.8,182.2 1485.9,182.1 1486.9,182.1 1488.0,182.0 1489.0,181.9 1490.1,181.9 1491.2,181.8 1492.2,181.8 1493.3,181.7 1494.4,181.6 1495.4,181.6 1496.5,181.5 1497.6,181.5 1498.7,181.4 1499.8,181.3 1500.9,181.3 1501.9,181.2 1503.0,181.2 1504.1,181.1 1505.2,181.0 1506.3,181.0 1507.4,180.9 1508.5,180.9 1509.6,180.8 1510.8,180.8 1511.9,180.7 1513.0,180.6 1514.1,180.6 1515.2,180.5 1516.3,180.5 1517.5,180.4 1518.6,180.4 1519.7,180.3 1520.9,180.3 1522.0,180.2 1523.1,180.1 1524.3,180.1 1525.4,180.0 1526.6,180.0 1527.7,179.9 1528.9,179.9 1530.0,179.8 1531.2,179.8 1532.3,179.7 1533.5,179.7 1534.7,179.6 1535.8,179.5 1537.0,179.5 1538.2,179.4 1539.3,179.4 1540.5,179.3 1541.7,179.3 1542.9,179.2 1544.1,179.2 1545.2,179.1 1546.4,179.1 1547.6,179.0 1548.8,179.0 1550.0,178.9 1551.2,178.9 1552.4,178.8 1553.6,178.8 1554.8,178.7 1556.0,178.7 1557.3,178.6 1558.5,178.6 1559.7,178.5 1560.9,178.5 1562.1,178.4 1563.4,178.4 1564.6,178.3 1565.8,178.3 1567.1,178.2 1568.3,178.2 1569.5,178.1 1570.8,178.1 1572.0,178.0 1573.3,178.0 1574.5,177.9 1575.8,177.9 1577.0,177.8 1578.3,177.8 1579.5,177.7 1580.8,177.7 1582.1,177.6 1583.3,177.6 1584.6,177.5 1585.9,177.5 1587.2,177.4 1588.4,177.4 1589.7,177.3 1591.0,177.3 1592.3,177.2 1593.6,177.2 1594.9,177.2 1596.2,177.1 1597.5,177.1 1598.8,177.0 1600.1,177.0 1601.4,176.9 1602.7,176.9 1604.0,176.8 1605.3,176.8 1606.6,176.7 1608.0,176.7 1609.3,176.7 1610.6,176.6 1611.9,176.6 1613.3,176.5 1614.6,176.5 1615.9,176.4 1617.3,176.4 1618.6,176.3 1620.0,176.3 1621.3,176.3 1622.7,176.2 1624.0,176.2 1625.4,176.1 1626.7,176.1 1628.1,176.0 1629.5,176.0 1630.8,175.9 1632.2,175.9 1633.6,175.9 1635.0,175.8 1636.3,175.8 1637.7,175.7 1639.1,175.7 1640.5,175.6 1641.9,175.6 1643.3,175.6 1644.7,175.5 1646.1,175.5 1647.5,175.4 1648.9,175.4 1650.3,175.4 1651.7,175.3 1653.1,175.3 1654.5,175.2 1655.9,175.2 1657.4,175.2 1658.8,175.1 1660.2,175.1 1661.6,175.0 1663.1,175.0 1664.5,174.9 1665.9,174.9 1667.4,174.9 1668.8,174.8 1670.3,174.8 1671.7,174.7 1673.2,174.7 1674.6,174.7 1676.1,174.6 1677.6,174.6 1679.0,174.6 1680.5,174.5 1682.0,174.5 1683.4,174.4 1684.9,174.4 1686.4,174.4 1687.9,174.3 1689.4,174.3 1690.8,174.2 1692.3,174.2 1693.8,174.2 1695.3,174.1 1696.8,174.1 1698.3,174.1 1699.8,174.0 1701.3,174.0 1702.8,173.9 1704.4,173.9 1705.9,173.9 1707.4,173.8 1708.9,173.8 1710.4,173.8 1712.0,173.7 1713.5,173.7 1715.0,173.6 1716.6,173.6 1718.1,173.6 1719.7,173.5 1721.2,173.5 1722.8,173.5 1724.3,173.4 1725.9,173.4 1727.4,173.4 1729.0,173.3 1730.6,173.3 1732.1,173.2 1733.7,173.2 1735.3,173.2 1736.8,173.1 1738.4,173.1 1740.0,173.1 1741.6,173.0 1743.2,173.0 1744.8,173.0 1746.4,172.9 1748.0,172.9 1749.6,172.9 1751.2,172.8 1752.8,172.8 1754.4,172.8 1756.0,172.7 1757.6,172.7 1759.2,172.7 1760.9,172.6 1762.5,172.6 1764.1,172.6 1765.7,172.5 1767.4,172.5 1769.0,172.5 1770.6,172.4 1772.3,172.4 1773.9,172.4 1775.6,172.3 1777.2,172.3 1778.9,172.3 1780.5,172.2 1782.2,172.2 1783.9,172.2 1785.5,172.1 1787.2,172.1 1788.9,172.1 1790.6,172.0 1792.2,172.0 1793.9,172.0 1795.6,171.9 1797.3,171.9 1799.0,171.9 1800.7,171.8 1802.4,171.8 1804.1,171.8 1805.8,171.7 1807.5,171.7 1809.2,171.7 1810.9,171.7 1812.6,171.6 1814.4,171.6 1816.1,171.6 1817.8,171.5 1819.5,171.5 1821.3,171.5 1823.0,171.4 1824.8,171.4 1826.5,171.4 1828.2,171.3 1830.0,171.3 1831.7,171.3 1833.5,171.3 1835.3,171.2 1837.0,171.2 1838.8,171.2 1840.6,171.1 1842.3,171.1 1844.1,171.1 1845.9,171.0 1847.7,171.0 1849.4,171.0 1851.2,171.0 1853.0,170.9 1854.8,170.9 1856.6,170.9 1858.4,170.8 1860.2,170.8 1862.0,170.8 1863.8,170.8 1865.6,170.7 1867.5,170.7 1869.3,170.7 1871.1,170.6 1872.9,170.6 1874.8,170.6 1876.6,170.6 1878.4,170.5 1880.3,170.5 1882.1,170.5 1883.9,170.4 1885.8,170.4 1887.6,170.4 1889.5,170.4 1891.4,170.3 1893.2,170.3 1895.1,170.3 1897.0,170.3 1898.8,170.2 1900.7,170.2 1902.6,170.2 1904.5,170.1 1906.3,170.1 1908.2,170.1 1910.1,170.1 1912.0,170.0 1913.9,170.0 1915.8,170.0 1917.7,170.0 1919.6,169.9 1921.5,169.9 1923.4,169.9 1925.4,169.8 1927.3,169.8 1929.2,169.8 1931.1,169.8 1933.1,169.7 1935.0,169.7 1936.9,169.7 1938.9,169.7 1940.8,169.6 1942.8,169.6 1944.7,169.6 1946.7,169.6 1948.6,169.5 1950.6,169.5 1952.6,169.5 1954.5,169.5 1956.5,169.4 1958.5,169.4 1960.4,169.4 1962.4,169.4 1964.4,169.3 1966.4,169.3 1968.4,169.3 1970.4,169.3 1972.4,169.2 1974.4,169.2 1976.4,169.2 1978.4,169.2 1980.4,169.1 1982.4,169.1 1984.4,169.1 1986.5,169.1 1988.5,169.0 1990.5,169.0 1992.5,169.0 1994.6,169.0 1996.6,168.9 1998.7,168.9 2000.7,168.9 2002.7,168.9 2004.8,168.8" fill="none" stroke="#ff0000" stroke-width="4.7" stroke-linejoin="round" stroke-linecap="square" stroke-dasharray="11.5 11.5"/>
<polyline points="1184.3,345.3 1184.3,346.1 1184.3,347.1 1184.4,348.0 1184.4,349.0 1184.4,349.9 1184.4,350.8 1184.4,351.8 1184.5,352.9 1184.5,354.0 1184.5,354.8 1184.5,355.6 1184.6,356.5 1184.6,357.4 1184.6,358.4 1184.6,359.4 1184.7,360.4 1184.7,361.4 1184.7,362.5 1184.7,363.7 1184.8,364.8 1184.8,366.0 1184.8,367.2 1184.9,368.5 1184.9,369.8 1184.9,371.1 1185.0,372.5 1185.0,373.9 1185.1,375.3 1185.1,376.8 1185.1,378.3 1185.2,379.8 1185.2,381.3 1185.3,382.9 1185.3,384.5 1185.3,385.3 1185.4,386.1 1185.4,387.0 1185.4,387.8 1185.4,388.6 1185.5,389.5 1185.5,390.3 1185.5,391.2 1185.6,392.0 1185.6,392.9 1185.6,393.8 1185.6,394.6 1185.7,395.5 1185.7,396.4 1185.7,397.3 1185.8,398.2 1185.8,399.1 1185.8,400.0 1185.9,400.9 1185.9,401.8 1185.9,402.7 1186.0,403.6 1186.0,404.6 1186.0,405.5 1186.1,406.4 1186.1,407.3 1186.1,408.3 1186.2,409.2 1186.2,410.1 1186.2,411.1 1186.3,412.0 1186.3,413.0 1186.3,413.9 1186.4,414.9 1186.4,415.8 1186.5,416.8 1186.5,417.7 1186.5,418.7 1186.6,419.6 1186.6,420.6 1186.7,421.5 1186.7,422.5 1186.8,423.4 1186.8,424.4 1186.8,425.3 1186.9,426.3 1186.9,427.2 1187.0,428.2 1187.0,429.1 1187.1,430.1 1187.1,431.0 1187.2,432.0 1187.2,432.9 1187.3,433.9 1187.3,434.8 1187.4,435.7 1187.4,436.7 1187.5,437.6 1187.5,438.5 1187.6,439.5 1187.6,440.4 1187.7,441.3 1187.7,442.2 1187.8,443.2 1187.8,444.1 1187.9,445.0 1187.9,445.9 1188.0,446.8 1188.1,447.7 1188.1,448.6 1188.2,449.5 1188.2,450.4 1188.3,451.2 1188.3,452.1 1188.4,453.0 1188.5,453.9 1188.5,454.7 1188.6,455.6 1188.7,456.4 1188.7,457.3 1188.8,458.1 1188.8,458.9 1188.9,459.8 1189.0,460.6 1189.0,461.4 1189.1,462.2 1189.2,463.0 1189.2,463.8 1189.4,465.4 1189.5,467.0 1189.7,468.5 1189.8,470.0 1190.0,471.5 1190.1,473.0 1190.3,474.4 1190.4,475.8 1190.6,477.1 1190.7,478.5 1190.9,479.8 1191.1,481.1 1191.2,482.3 1191.4,483.6 1191.6,484.7 1191.8,485.9 1192.0,487.0 1192.1,488.1 1192.3,489.2 1192.5,490.2 1192.7,491.2 1192.9,492.2 1193.1,493.2 1193.3,494.1 1193.5,495.0 1193.7,495.8 1193.9,496.7 1194.1,497.5 1194.5,498.6 1194.8,499.7 1195.2,500.7 1195.5,501.6 1195.9,502.5 1196.2,503.3 1196.6,504.1 1197.1,505.0 1197.6,505.9 1198.2,506.6 1198.7,507.2 1199.4,507.9 1200.1,508.4 1200.9,508.8 1201.7,509.0 1202.5,509.2 1203.3,509.2 1204.1,509.1 1205.0,509.0 1205.9,508.7 1206.8,508.4 1207.6,508.0 1208.4,507.6 1209.2,507.2 1210.0,506.7 1210.8,506.2 1211.6,505.7 1212.5,505.1 1213.1,504.6 1213.8,504.1 1214.5,503.7 1215.2,503.1 1215.9,502.6 1216.6,502.1 1217.3,501.5 1218.0,501.0 1218.8,500.4 1219.5,499.8 1220.3,499.2 1221.1,498.6 1221.8,498.0 1222.6,497.3 1223.4,496.7 1224.2,496.1 1225.1,495.4 1225.9,494.8 1226.8,494.1 1227.6,493.4 1228.5,492.8 1229.4,492.1 1230.3,491.4 1231.2,490.8 1232.1,490.1 1233.0,489.4 1234.0,488.7 1234.9,488.0 1235.9,487.3 1236.9,486.7 1237.6,486.2 1238.2,485.7 1238.9,485.3 1239.6,484.8 1240.3,484.4 1240.9,483.9 1241.6,483.5 1242.3,483.0 1243.0,482.5 1243.8,482.1 1244.5,481.6 1245.2,481.2 1245.9,480.7 1246.7,480.3 1247.4,479.8 1248.1,479.4 1248.9,478.9 1249.7,478.5 1250.4,478.0 1251.2,477.6 1252.0,477.1 1252.7,476.7 1253.5,476.2 1254.3,475.8 1255.1,475.4 1255.9,474.9 1256.7,474.5 1257.6,474.0 1258.4,473.6 1259.2,473.2 1260.0,472.7 1260.9,472.3 1261.7,471.9 1262.6,471.5 1263.5,471.0 1264.3,470.6 1265.2,470.2 1266.1,469.8 1267.0,469.4 1267.8,468.9 1268.7,468.5 1269.7,468.1 1270.6,467.7 1271.5,467.3 1272.4,466.9 1273.3,466.5 1274.3,466.1 1275.2,465.7 1276.2,465.3 1277.1,464.9 1278.1,464.5 1279.1,464.1 1280.0,463.7 1281.0,463.4 1282.0,463.0 1283.0,462.6 1284.0,462.2 1285.0,461.8 1286.0,461.5 1287.1,461.1 1288.1,460.7 1289.1,460.3 1290.2,460.0 1291.2,459.6 1292.3,459.3 1293.4,458.9 1294.4,458.5 1295.5,458.2 1296.6,457.8 1297.7,457.5 1298.8,457.1 1299.9,456.8 1301.0,456.4 1302.2,456.1 1303.3,455.7 1304.4,455.4 1305.6,455.1 1306.7,454.7 1307.9,454.4 1309.0,454.1 1310.2,453.7 1311.4,453.4 1312.6,453.1 1313.8,452.8 1315.0,452.4 1316.2,452.1 1317.4,451.8 1318.6,451.5 1319.9,451.1 1321.1,450.8 1322.4,450.5 1323.6,450.2 1324.9,449.9 1326.1,449.6 1327.4,449.3 1328.7,449.0 1330.0,448.6 1331.3,448.3 1332.6,448.0 1333.9,447.7 1335.3,447.4 1336.6,447.1 1337.9,446.8 1339.3,446.5 1340.6,446.2 1342.0,445.9 1343.4,445.6 1344.7,445.3 1346.1,445.0 1347.5,444.7 1348.9,444.4 1350.3,444.1 1351.8,443.8 1353.2,443.6 1354.6,443.3 1356.1,443.0 1357.5,442.7 1359.0,442.4 1360.5,442.1 1361.9,441.8 1363.4,441.6 1364.9,441.3 1366.4,441.0 1367.9,440.7 1369.4,440.4 1371.0,440.2 1372.5,439.9 1374.0,439.6 1375.6,439.3 1377.2,439.1 1378.7,438.8 1380.3,438.5 1381.1,438.4 1381.9,438.3 1382.7,438.1 1383.5,438.0 1384.3,437.9 1385.1,437.7 1385.9,437.6 1386.7,437.5 1387.5,437.4 1388.3,437.2 1389.1,437.1 1389.9,437.0 1390.8,436.8 1391.6,436.7 1392.4,436.6 1393.2,436.4 1394.0,436.3 1394.9,436.2 1395.7,436.1 1396.5,435.9 1397.4,435.8 1398.2,435.7 1399.0,435.6 1399.9,435.4 1400.7,435.3 1401.6,435.2 1402.4,435.1 1403.3,434.9 1404.1,434.8 1405.0,434.7 1405.8,434.6 1406.7,434.5 1407.6,434.3 1408.4,434.2 1409.3,434.1 1410.2,434.0 1411.0,433.8 1411.9,433.7 1412.8,433.6 1413.7,433.5 1414.5,433.4 1415.4,433.2 1416.3,433.1 1417.2,433.0 1418.1,432.9 1419.0,432.8 1419.8,432.6 1420.7,432.5 1421.6,432.4 1422.5,432.3 1423.4,432.2 1424.3,432.0 1425.3,431.9 1426.2,431.8 1427.1,431.7 1428.0,431.6 1428.9,431.5 1429.8,431.3 1430.7,431.2 1431.7,431.1 1432.6,431.0 1433.5,430.9 1434.4,430.8 1435.4,430.6 1436.3,430.5 1437.2,430.4 1438.2,430.3 1439.1,430.2 1440.1,430.1 1441.0,430.0 1442.0,429.9 1442.9,429.7 1443.9,429.6 1444.8,429.5 1445.8,429.4 1446.7,429.3 1447.7,429.2 1448.7,429.1 1449.6,429.0 1450.6,428.9 1451.6,428.8 1452.5,428.7 1453.5,428.5 1454.5,428.4 1455.5,428.3 1456.4,428.2 1457.4,428.1 1458.4,428.0 1459.4,427.9 1460.4,427.8 1461.4,427.7 1462.4,427.6 1463.4,427.5 1464.4,427.4 1465.4,427.3 1466.4,427.2 1467.4,427.1 1468.4,427.0 1469.4,426.9 1470.5,426.8 1471.5,426.7 1472.5,426.6 1473.5,426.6 1474.5,426.5 1475.6,426.4 1476.6,426.3 1477.6,426.2 1478.7,426.1 1479.7,426.0 1480.7,425.9 1481.8,425.8 1482.8,425.7 1483.9,425.6 1484.9,425.5 1486.0,425.4 1487.0,425.4 1488.1,425.3 1489.2,425.2 1490.2,425.1 1491.3,425.0 1492.4,424.9 1493.4,424.8 1494.5,424.7 1495.6,424.7 1496.6,424.6 1497.7,424.5 1498.8,424.4 1499.9,424.3 1501.0,424.2 1502.1,424.1 1503.2,424.1 1504.3,424.0 1505.4,423.9 1506.5,423.8 1507.6,423.7 1508.7,423.6 1509.8,423.5 1510.9,423.5 1512.0,423.4 1513.1,423.3 1514.2,423.2 1515.3,423.1 1516.5,423.1 1517.6,423.0 1518.7,422.9 1519.8,422.8 1521.0,422.7 1522.1,422.6 1523.3,422.6 1524.4,422.5 1525.5,422.4 1526.7,422.3 1527.8,422.3 1529.0,422.2 1530.1,422.1 1531.3,422.0 1532.4,421.9 1533.6,421.9 1534.8,421.8 1535.9,421.7 1537.1,421.6 1538.3,421.6 1539.4,421.5 1540.6,421.4 1541.8,421.3 1543.0,421.2 1544.2,421.2 1545.4,421.1 1546.5,421.0 1547.7,420.9 1548.9,420.9 1550.1,420.8 1551.3,420.7 1552.5,420.6 1553.7,420.6 1554.9,420.5 1556.1,420.4 1557.4,420.4 1558.6,420.3 1559.8,420.2 1561.0,420.1 1562.2,420.1 1563.5,420.0 1564.7,419.9 1565.9,419.8 1567.2,419.8 1568.4,419.7 1569.6,419.6 1570.9,419.6 1572.1,419.5 1573.4,419.4 1574.6,419.3 1575.9,419.3 1577.1,419.2 1578.4,419.1 1579.6,419.1 1580.9,419.0 1582.2,418.9 1583.4,418.8 1584.7,418.8 1586.0,418.7 1587.3,418.6 1588.5,418.6 1589.8,418.5 1591.1,418.4 1592.4,418.4 1593.7,418.3 1595.0,418.2 1596.3,418.1 1597.6,418.1 1598.9,418.0 1600.2,417.9 1601.5,417.9 1602.8,417.8 1604.1,417.7 1605.4,417.7 1606.7,417.6 1608.1,417.5 1609.4,417.5 1610.7,417.4 1612.0,417.3 1613.4,417.3 1614.7,417.2 1616.0,417.1 1617.4,417.1 1618.7,417.0 1620.1,416.9 1621.4,416.9 1622.8,416.8 1624.1,416.7 1625.5,416.7 1626.8,416.6 1628.2,416.5 1629.6,416.5 1630.9,416.4 1632.3,416.3 1633.7,416.3 1635.0,416.2 1636.4,416.1 1637.8,416.1 1639.2,416.0 1640.6,416.0 1642.0,415.9 1643.4,415.8 1644.8,415.8 1646.2,415.7 1647.6,415.6 1649.0,415.6 1650.4,415.5 1651.8,415.5 1653.2,415.4 1654.6,415.3 1656.0,415.3 1657.4,415.2 1658.9,415.1 1660.3,415.1 1661.7,415.0 1663.2,415.0 1664.6,414.9 1666.0,414.8 1667.5,414.8 1668.9,414.7 1670.4,414.7 1671.8,414.6 1673.3,414.5 1674.7,414.5 1676.2,414.4 1677.6,414.4 1679.1,414.3 1680.6,414.2 1682.0,414.2 1683.5,414.1 1685.0,414.1 1686.5,414.0 1687.9,414.0 1689.4,413.9 1690.9,413.8 1692.4,413.8 1693.9,413.7 1695.4,413.7 1696.9,413.6 1698.4,413.5 1699.9,413.5 1701.4,413.4 1702.9,413.4 1704.4,413.3 1706.0,413.3 1707.5,413.2 1709.0,413.2 1710.5,413.1 1712.0,413.0 1713.6,413.0 1715.1,412.9 1716.7,412.9 1718.2,412.8 1719.7,412.8 1721.3,412.7 1722.8,412.7 1724.4,412.6 1725.9,412.5 1727.5,412.5 1729.1,412.4 1730.6,412.4 1732.2,412.3 1733.8,412.3 1735.3,412.2 1736.9,412.2 1738.5,412.1 1740.1,412.1 1741.7,412.0 1743.2,412.0 1744.8,411.9 1746.4,411.8 1748.0,411.8 1749.6,411.7 1751.2,411.7 1752.8,411.6 1754.4,411.6 1756.1,411.5 1757.7,411.5 1759.3,411.4 1760.9,411.4 1762.5,411.3 1764.2,411.3 1765.8,411.2 1767.4,411.2 1769.1,411.1 1770.7,411.1 1772.3,411.0 1774.0,411.0 1775.6,410.9 1777.3,410.9 1778.9,410.8 1780.6,410.8 1782.3,410.7 1783.9,410.7 1785.6,410.6 1787.3,410.6 1788.9,410.5 1790.6,410.5 1792.3,410.4 1794.0,410.4 1795.7,410.3 1797.4,410.3 1799.0,410.2 1800.7,410.2 1802.4,410.1 1804.1,410.1 1805.8,410.0 1807.6,410.0 1809.3,409.9 1811.0,409.9 1812.7,409.8 1814.4,409.8 1816.1,409.7 1817.9,409.7 1819.6,409.6 1821.3,409.6 1823.1,409.6 1824.8,409.5 1826.5,409.5 1828.3,409.4 1830.0,409.4 1831.8,409.3 1833.5,409.3 1835.3,409.2 1837.1,409.2 1838.8,409.1 1840.6,409.1 1842.4,409.0 1844.1,409.0 1845.9,408.9 1847.7,408.9 1849.5,408.9 1851.3,408.8 1853.1,408.8 1854.9,408.7 1856.6,408.7 1858.4,408.6 1860.2,408.6 1862.1,408.5 1863.9,408.5 1865.7,408.4 1867.5,408.4 1869.3,408.4 1871.1,408.3 1873.0,408.3 1874.8,408.2 1876.6,408.2 1878.5,408.1 1880.3,408.1 1882.1,408.0 1884.0,408.0 1885.8,408.0 1887.7,407.9 1889.5,407.9 1891.4,407.8 1893.2,407.8 1895.1,407.7 1897.0,407.7 1898.9,407.7 1900.7,407.6 1902.6,407.6 1904.5,407.5 1906.4,407.5 1908.3,407.4 1910.1,407.4 1912.0,407.4 1913.9,407.3 1915.8,407.3 1917.7,407.2 1919.6,407.2 1921.6,407.1 1923.5,407.1 1925.4,407.1 1927.3,407.0 1929.2,407.0 1931.2,406.9 1933.1,406.9 1935.0,406.8 1937.0,406.8 1938.9,406.8 1940.8,406.7 1942.8,406.7 1944.7,406.6 1946.7,406.6 1948.6,406.6 1950.6,406.5 1952.6,406.5 1954.5,406.4 1956.5,406.4 1958.5,406.3 1960.5,406.3 1962.4,406.3 1964.4,406.2 1966.4,406.2 1968.4,406.1 1970.4,406.1 1972.4,406.1 1974.4,406.0 1976.4,406.0 1978.4,405.9 1980.4,405.9 1982.4,405.9 1984.4,405.8 1986.5,405.8 1988.5,405.7 1990.5,405.7 1992.5,405.7 1994.6,405.6 1996.6,405.6 1998.7,405.5 2000.7,405.5 2002.7,405.5 2004.8,405.4" fill="none" stroke="#00ff00" stroke-width="4.7" stroke-linejoin="round" stroke-linecap="square"/>
<polyline points="113.9,1186.2 114.7,1186.0 115.4,1185.6 116.2,1185.1 117.0,1184.7 117.7,1184.2 118.6,1183.8 119.3,1183.4 120.1,1183.0 120.9,1182.6 121.8,1182.2 122.7,1181.8 123.5,1181.5 124.2,1181.2 125.0,1180.8 125.9,1180.5 126.7,1180.2 127.6,1179.9 128.5,1179.5 129.5,1179.2 130.5,1178.9 131.5,1178.5 132.5,1178.2 133.6,1177.9 134.7,1177.5 135.8,1177.2 137.0,1176.9 137.8,1176.7 138.6,1176.5 139.4,1176.2 140.2,1176.0 141.1,1175.8 141.9,1175.6 142.8,1175.4 143.7,1175.2 144.6,1175.0 145.5,1174.8 146.4,1174.6 147.3,1174.4 148.3,1174.2 149.2,1174.0 150.2,1173.8 151.2,1173.6 152.2,1173.4 153.2,1173.2 154.2,1173.0 155.3,1172.8 156.3,1172.7 157.4,1172.5 158.5,1172.3 159.6,1172.1 160.7,1172.0 161.8,1171.8 162.9,1171.6 164.1,1171.4 165.2,1171.3 166.4,1171.1 167.6,1171.0 168.8,1170.8 170.0,1170.6 171.2,1170.5 172.5,1170.3 173.7,1170.2 175.0,1170.1 176.3,1169.9 177.6,1169.8 178.9,1169.6 180.2,1169.5 181.5,1169.4 182.9,1169.3 184.2,1169.1 185.6,1169.0 187.0,1168.9 188.4,1168.8 189.8,1168.7 191.2,1168.6 192.7,1168.4 194.1,1168.3 195.6,1168.2 197.1,1168.1 198.6,1168.0 200.1,1168.0 201.6,1167.9 203.1,1167.8 204.7,1167.7 206.2,1167.6 207.8,1167.5 209.4,1167.5 211.0,1167.4 211.8,1167.4 212.6,1167.3 213.4,1167.3 214.2,1167.3 215.0,1167.2 215.8,1167.2 216.7,1167.2 217.5,1167.2 218.3,1167.1 219.2,1167.1 220.0,1167.1 220.8,1167.0 221.7,1167.0 222.5,1167.0 223.4,1167.0 224.2,1167.0 225.1,1166.9 226.0,1166.9 226.8,1166.9 227.7,1166.9 228.6,1166.9 229.4,1166.8 230.3,1166.8 231.2,1166.8 232.1,1166.8 233.0,1166.8 233.8,1166.8 234.7,1166.8 235.6,1166.7 236.5,1166.7 237.4,1166.7 238.3,1166.7 239.3,1166.7 240.2,1166.7 241.1,1166.7 242.0,1166.7 242.9,1166.7 243.9,1166.7 244.8,1166.7 245.7,1166.7 246.7,1166.7 247.6,1166.7 248.5,1166.7 249.5,1166.7 250.4,1166.7 251.4,1166.7 252.3,1166.7 253.3,1166.7 254.3,1166.7 255.2,1166.7 256.2,1166.7 257.2,1166.7 258.1,1166.7 259.1,1166.7 260.1,1166.7 261.1,1166.7 262.1,1166.7 263.1,1166.7 264.1,1166.8 265.1,1166.8 266.1,1166.8 267.1,1166.8 268.1,1166.8 269.1,1166.8 270.1,1166.8 271.1,1166.9 272.2,1166.9 273.2,1166.9 274.2,1166.9 275.3,1166.9 276.3,1167.0 277.3,1167.0 278.4,1167.0 279.4,1167.0 280.5,1167.1 281.5,1167.1 282.6,1167.1 283.6,1167.1 284.7,1167.2 285.8,1167.2 286.8,1167.2 287.9,1167.3 289.0,1167.3 290.1,1167.3 291.1,1167.3 292.2,1167.4 293.3,1167.4 294.4,1167.4 295.5,1167.5 296.6,1167.5 297.7,1167.6 298.8,1167.6 299.9,1167.6 301.0,1167.7 302.1,1167.7 303.3,1167.8 304.4,1167.8 305.5,1167.8 306.6,1167.9 307.8,1167.9 308.9,1168.0 310.0,1168.0 311.2,1168.1 312.3,1168.1 313.5,1168.2 314.6,1168.2 315.8,1168.3 316.9,1168.3 318.1,1168.4 319.3,1168.4 320.4,1168.5 321.6,1168.5 322.8,1168.6 324.0,1168.6 325.2,1168.7 326.3,1168.7 327.5,1168.8 328.7,1168.9 329.9,1168.9 331.1,1169.0 332.3,1169.0 333.5,1169.1 334.7,1169.2 335.9,1169.2 337.2,1169.3 338.4,1169.3 339.6,1169.4 340.8,1169.5 342.0,1169.5 343.3,1169.6 344.5,1169.7 345.8,1169.7 347.0,1169.8 348.2,1169.9 349.5,1170.0 350.7,1170.0 352.0,1170.1 353.3,1170.2 354.5,1170.3 355.8,1170.3 357.0,1170.4 358.3,1170.5 359.6,1170.6 360.9,1170.6 362.1,1170.7 363.4,1170.8 364.7,1170.9 366.0,1170.9 367.3,1171.0 368.6,1171.1 369.9,1171.2 371.2,1171.3 372.5,1171.4 373.8,1171.4 375.1,1171.5 376.5,1171.6 377.8,1171.7 379.1,1171.8 380.4,1171.9 381.8,1172.0 383.1,1172.1 384.4,1172.1 385.8,1172.2 387.1,1172.3 388.5,1172.4 389.8,1172.5 391.2,1172.6 392.5,1172.7 393.9,1172.8 395.3,1172.9 396.6,1173.0 398.0,1173.1 399.4,1173.2 400.7,1173.3 402.1,1173.4 403.5,1173.5 404.9,1173.6 406.3,1173.7 407.7,1173.8 409.1,1173.9 410.5,1174.0 411.9,1174.1 413.3,1174.2 414.7,1174.3 416.1,1174.4 417.5,1174.5 419.0,1174.6 420.4,1174.7 421.8,1174.8 423.2,1175.0 424.7,1175.1 426.1,1175.2 427.5,1175.3 429.0,1175.4 430.4,1175.5 431.9,1175.6 433.3,1175.7 434.8,1175.8 436.3,1176.0 437.7,1176.1 439.2,1176.2 440.7,1176.3 442.1,1176.4 443.6,1176.5 445.1,1176.7 446.6,1176.8 448.1,1176.9 449.6,1177.0 451.0,1177.1 452.5,1177.3 454.0,1177.4 455.5,1177.5 457.1,1177.6 458.6,1177.7 460.1,1177.9 461.6,1178.0 463.1,1178.1 464.6,1178.2 466.2,1178.4 467.7,1178.5 469.2,1178.6 470.8,1178.8 472.3,1178.9 473.8,1179.0 475.4,1179.1 476.9,1179.3 478.5,1179.4 480.1,1179.5 481.6,1179.6 483.2,1179.8 484.7,1179.9 486.3,1180.0 487.9,1180.2 489.5,1180.3 491.0,1180.4 492.6,1180.6 494.2,1180.7 495.8,1180.8 497.4,1181.0 499.0,1181.1 500.6,1181.2 502.2,1181.4 503.8,1181.5 505.4,1181.6 507.0,1181.8 508.6,1181.9 510.3,1182.0 511.9,1182.2 513.5,1182.3 515.1,1182.5 516.8,1182.6 518.4,1182.7 520.0,1182.9 521.7,1183.0 523.3,1183.1 525.0,1183.3 526.6,1183.4 528.3,1183.5 529.9,1183.7 531.6,1183.8 533.3,1184.0 534.9,1184.1 536.6,1184.2 538.3,1184.4 540.0,1184.5 541.7,1184.6 543.3,1184.8 545.0,1184.9 546.7,1185.1 548.4,1185.2 550.1,1185.3 551.8,1185.5 553.5,1185.6 555.2,1185.7 556.9,1185.9 558.7,1186.0 560.4,1186.1 562.1,1186.3 563.8,1186.4 565.6,1186.5 567.3,1186.7 569.0,1186.8 570.8,1186.9 572.5,1187.1 574.2,1187.2 576.0,1187.3 577.8,1187.5 579.5,1187.6 581.3,1187.7 583.0,1187.9 584.8,1188.0 586.6,1188.1 588.3,1188.2 590.1,1188.4 591.9,1188.5 593.7,1188.6 595.5,1188.7 597.2,1188.9 599.0,1189.0 600.8,1189.1 602.6,1189.2 604.4,1189.4 606.2,1189.5 608.0,1189.6 609.9,1189.7 611.7,1189.8 613.5,1189.9 615.3,1190.1 617.1,1190.2 619.0,1190.3 620.8,1190.4 622.6,1190.5 624.5,1190.6 626.3,1190.7 628.2,1190.8 630.0,1190.9 631.9,1191.0 633.7,1191.1 635.6,1191.2 637.4,1191.3 639.3,1191.4 641.2,1191.5 643.0,1191.6 644.9,1191.7 646.8,1191.7 648.7,1191.8 650.5,1191.9 652.4,1192.0 654.3,1192.1 656.2,1192.1 658.1,1192.2 660.0,1192.3 661.9,1192.3 663.8,1192.4 665.7,1192.5 667.7,1192.5 669.6,1192.6 671.5,1192.6 673.4,1192.7 675.4,1192.7 677.3,1192.8 679.2,1192.8 681.2,1192.8 683.1,1192.9 685.0,1192.9 687.0,1192.9 688.9,1192.9 690.9,1193.0 692.9,1193.0 694.8,1193.0 696.8,1193.0 698.7,1193.0 700.7,1193.0 702.7,1193.0 704.7,1193.0 706.6,1193.0 708.6,1192.9 710.6,1192.9 712.6,1192.9 714.6,1192.9 716.6,1192.8 718.6,1192.8 720.6,1192.7 722.6,1192.7 724.6,1192.6 726.6,1192.6 728.7,1192.5 730.7,1192.4 732.7,1192.3 734.7,1192.2 736.8,1192.1 738.8,1192.0 740.8,1191.9 742.9,1191.8 744.9,1191.7 747.0,1191.6 749.0,1191.5 751.1,1191.3 753.1,1191.2 755.2,1191.0 757.2,1190.9 759.3,1190.7 761.4,1190.6 763.5,1190.4 765.5,1190.3 767.6,1190.1 769.7,1189.9 771.8,1189.7 773.9,1189.5 776.0,1189.3 778.1,1189.1 780.2,1188.8 782.3,1188.6 784.4,1188.4 786.5,1188.1 788.6,1187.8 790.7,1187.6 792.8,1187.3 795.0,1187.0 797.1,1186.6 799.2,1186.3 801.3,1186.0 803.5,1185.6 805.6,1185.3 807.8,1184.9 809.9,1184.6 812.1,1184.2 814.2,1183.8 816.4,1183.4 818.5,1183.0 820.7,1182.5 822.9,1182.1 825.0,1181.6 827.2,1181.2 829.4,1180.7 831.6,1180.2 833.7,1179.7 835.9,1179.1 838.1,1178.6 840.3,1178.0 842.5,1177.4 844.7,1176.7 846.9,1176.1 849.1,1175.4 851.3,1174.7 853.5,1174.0 855.8,1173.2 858.0,1172.4 860.2,1171.6 862.4,1170.7 864.7,1169.8 866.9,1168.9 869.1,1168.0 871.4,1167.0 873.6,1166.0 875.8,1165.0 878.1,1163.9 880.4,1162.8 882.6,1161.7 884.9,1160.5 887.1,1159.3 889.4,1158.1 891.7,1156.9 893.9,1155.6 896.2,1154.3 898.5,1153.0 900.8,1151.7 903.1,1150.3 905.3,1148.9 907.6,1147.4 909.9,1145.9 912.2,1144.4 914.5,1142.9 916.8,1141.3 919.2,1139.7 921.5,1138.0 921.9,1137.7" fill="none" stroke="#0000ff" stroke-width="4.7" stroke-linejoin="round" stroke-linecap="square" stroke-dasharray="3.3 11.1"/>
<polyline points="113.9,1186.2 114.1,1185.5 114.5,1184.7 114.9,1183.9 115.4,1183.2 115.9,1182.4 116.4,1181.7 116.9,1181.0 117.5,1180.3 118.2,1179.6 118.9,1178.8 119.4,1178.2 120.0,1177.6 120.6,1177.0 121.3,1176.4 122.0,1175.8 122.7,1175.1 123.4,1174.5 124.2,1173.8 125.0,1173.2 125.8,1172.5 126.6,1171.9 127.5,1171.2 128.4,1170.5 129.4,1169.8 130.3,1169.2 131.0,1168.7 131.7,1168.2 132.4,1167.8 133.1,1167.3 133.8,1166.9 134.5,1166.4 135.3,1165.9 136.0,1165.5 136.8,1165.0 137.6,1164.6 138.4,1164.1 139.2,1163.6 140.0,1163.2 140.8,1162.7 141.7,1162.2 142.5,1161.8 143.4,1161.3 144.3,1160.8 145.2,1160.4 146.1,1159.9 147.1,1159.4 148.0,1159.0 148.9,1158.5 149.9,1158.0 150.9,1157.6 151.9,1157.1 152.9,1156.6 153.9,1156.2 154.9,1155.7 156.0,1155.2 157.0,1154.7 158.1,1154.3 159.2,1153.8 160.3,1153.3 161.4,1152.8 162.5,1152.4 163.7,1151.9 164.8,1151.4 166.0,1150.9 167.2,1150.4 168.4,1150.0 169.6,1149.5 170.8,1149.0 172.0,1148.5 173.3,1148.1 174.5,1147.6 175.8,1147.1 177.1,1146.7 178.4,1146.2 179.7,1145.7 181.0,1145.3 182.3,1144.8 183.7,1144.4 185.0,1143.9 186.4,1143.5 187.8,1143.1 189.2,1142.6 190.6,1142.2 192.0,1141.8 193.5,1141.4 194.9,1141.0 196.4,1140.7 197.9,1140.3 199.4,1139.9 200.9,1139.5 202.4,1139.2 203.9,1138.8 205.5,1138.5 207.0,1138.1 207.8,1137.9 208.6,1137.8 209.4,1137.6 210.2,1137.4 211.0,1137.3 211.8,1137.1 212.6,1136.9 213.4,1136.8 214.2,1136.6 215.0,1136.4 215.8,1136.3 216.7,1136.1 217.5,1135.9 218.3,1135.8 219.1,1135.6 220.0,1135.5 220.8,1135.3 221.6,1135.2 222.5,1135.0 223.3,1134.9 224.2,1134.7 225.0,1134.6 225.9,1134.4 226.8,1134.3 227.6,1134.1 228.5,1134.0 229.4,1133.8 230.2,1133.7 231.1,1133.6 232.0,1133.4 232.9,1133.3 233.8,1133.1 234.6,1133.0 235.5,1132.9 236.4,1132.7 237.3,1132.6 238.2,1132.5 239.1,1132.4 240.0,1132.2 241.0,1132.1 241.9,1132.0 242.8,1131.9 243.7,1131.7 244.6,1131.6 245.6,1131.5 246.5,1131.4 247.4,1131.3 248.4,1131.2 249.3,1131.0 250.3,1130.9 251.2,1130.8 252.2,1130.7 253.1,1130.6 254.1,1130.5 255.0,1130.4 256.0,1130.3 257.0,1130.2 257.9,1130.1 258.9,1130.0 259.9,1129.9 260.9,1129.8 261.9,1129.7 262.9,1129.6 263.8,1129.5 264.8,1129.4 265.8,1129.3 266.8,1129.2 267.8,1129.1 268.9,1129.0 269.9,1128.9 270.9,1128.8 271.9,1128.7 272.9,1128.7 273.9,1128.6 275.0,1128.5 276.0,1128.4 277.0,1128.3 278.1,1128.3 279.1,1128.2 280.2,1128.1 281.2,1128.0 282.3,1128.0 283.3,1127.9 284.4,1127.8 285.4,1127.7 286.5,1127.7 287.6,1127.6 288.6,1127.5 289.7,1127.5 290.8,1127.4 291.9,1127.3 292.9,1127.3 294.0,1127.2 295.1,1127.2 296.2,1127.1 297.3,1127.0 298.4,1127.0 299.5,1126.9 300.6,1126.9 301.7,1126.8 302.8,1126.8 304.0,1126.7 305.1,1126.7 306.2,1126.6 307.3,1126.6 308.5,1126.5 309.6,1126.5 310.7,1126.5 311.9,1126.4 313.0,1126.4 314.1,1126.3 315.3,1126.3 316.4,1126.3 317.6,1126.2 318.8,1126.2 319.9,1126.2 321.1,1126.1 322.3,1126.1 323.4,1126.1 324.6,1126.0 325.8,1126.0 327.0,1126.0 328.2,1126.0 329.3,1125.9 330.5,1125.9 331.7,1125.9 332.9,1125.9 334.1,1125.9 335.3,1125.8 336.5,1125.8 337.8,1125.8 339.0,1125.8 340.2,1125.8 341.4,1125.8 342.6,1125.8 343.9,1125.8 345.1,1125.7 346.3,1125.7 347.6,1125.7 348.8,1125.7 350.1,1125.7 351.3,1125.7 352.6,1125.7 353.8,1125.7 355.1,1125.7 356.3,1125.7 357.6,1125.7 358.9,1125.7 360.1,1125.7 361.4,1125.7 362.7,1125.7 364.0,1125.8 365.2,1125.8 366.5,1125.8 367.8,1125.8 369.1,1125.8 370.4,1125.8 371.7,1125.8 373.0,1125.8 374.3,1125.8 375.6,1125.9 376.9,1125.9 378.3,1125.9 379.6,1125.9 380.9,1125.9 382.2,1126.0 383.6,1126.0 384.9,1126.0 386.2,1126.0 387.6,1126.1 388.9,1126.1 390.3,1126.1 391.6,1126.1 393.0,1126.2 394.3,1126.2 395.7,1126.2 397.0,1126.3 398.4,1126.3 399.8,1126.3 401.2,1126.4 402.5,1126.4 403.9,1126.4 405.3,1126.5 406.7,1126.5 408.1,1126.5 409.5,1126.6 410.9,1126.6 412.3,1126.7 413.7,1126.7 415.1,1126.7 416.5,1126.8 417.9,1126.8 419.3,1126.9 420.7,1126.9 422.1,1127.0 423.6,1127.0 425.0,1127.0 426.4,1127.1 427.9,1127.1 429.3,1127.2 430.7,1127.2 432.2,1127.3 433.6,1127.3 435.1,1127.4 436.5,1127.4 438.0,1127.5 439.5,1127.5 440.9,1127.6 442.4,1127.6 443.9,1127.7 445.3,1127.8 446.8,1127.8 448.3,1127.9 449.8,1127.9 451.3,1128.0 452.8,1128.0 454.3,1128.1 455.8,1128.1 457.3,1128.2 458.8,1128.3 460.3,1128.3 461.8,1128.4 463.3,1128.4 464.8,1128.5 466.3,1128.5 467.9,1128.6 469.4,1128.7 470.9,1128.7 472.5,1128.8 474.0,1128.8 475.5,1128.9 477.1,1129.0 478.6,1129.0 480.2,1129.1 481.7,1129.1 483.3,1129.2 484.8,1129.3 486.4,1129.3 488.0,1129.4 489.5,1129.4 491.1,1129.5 492.7,1129.6 494.3,1129.6 495.9,1129.7 497.4,1129.7 499.0,1129.8 500.6,1129.9 502.2,1129.9 503.8,1130.0 505.4,1130.0 507.0,1130.1 508.6,1130.1 510.3,1130.2 511.9,1130.3 513.5,1130.3 515.1,1130.4 516.7,1130.4 518.4,1130.5 520.0,1130.5 521.6,1130.6 523.3,1130.6 524.9,1130.7 526.6,1130.7 528.2,1130.8 529.9,1130.8 531.5,1130.9 533.2,1130.9 534.8,1131.0 536.5,1131.0 538.2,1131.1 539.8,1131.1 541.5,1131.2 543.2,1131.2 544.9,1131.3 546.6,1131.3 548.3,1131.3 549.9,1131.4 551.6,1131.4 553.3,1131.4 555.0,1131.5 556.7,1131.5 558.5,1131.6 560.2,1131.6 561.9,1131.6 563.6,1131.6 565.3,1131.7 567.0,1131.7 568.8,1131.7 570.5,1131.7 572.2,1131.8 574.0,1131.8 575.7,1131.8 577.5,1131.8 579.2,1131.8 581.0,1131.8 582.7,1131.8 584.5,1131.9 586.2,1131.9 588.0,1131.9 589.8,1131.9 591.5,1131.9 593.3,1131.9 595.1,1131.9 596.9,1131.9 598.6,1131.8 600.4,1131.8 602.2,1131.8 604.0,1131.8 605.8,1131.8 607.6,1131.8 609.4,1131.7 611.2,1131.7 613.0,1131.7 614.9,1131.6 616.7,1131.6 618.5,1131.6 620.3,1131.5 622.1,1131.5 624.0,1131.4 625.8,1131.4 627.6,1131.3 629.5,1131.2 631.3,1131.2 633.2,1131.1 635.0,1131.0 636.9,1131.0 638.7,1130.9 640.6,1130.8 642.4,1130.7 644.3,1130.6 646.2,1130.5 648.1,1130.4 649.9,1130.3 651.8,1130.2 653.7,1130.1 655.6,1130.0 657.5,1129.9 659.4,1129.7 661.3,1129.6 663.2,1129.5 665.1,1129.3 667.0,1129.2 668.9,1129.0 670.8,1128.9 672.7,1128.7 674.6,1128.5 676.5,1128.3 678.5,1128.2 680.4,1128.0 682.3,1127.8 684.3,1127.6 686.2,1127.4 688.1,1127.1 690.1,1126.9 692.0,1126.7 694.0,1126.5 695.9,1126.2 697.9,1126.0 699.9,1125.7 701.8,1125.4 703.8,1125.2 705.8,1124.9 707.7,1124.6 709.7,1124.3 711.7,1124.0 713.7,1123.7 715.7,1123.3 717.7,1123.0 719.7,1122.7 721.7,1122.3 723.7,1122.0 725.7,1121.6 727.7,1121.2 729.7,1120.8 731.7,1120.4 733.7,1120.0 735.7,1119.6 737.7,1119.1 739.8,1118.7 741.8,1118.2 743.8,1117.7 745.9,1117.3 747.9,1116.8 750.0,1116.3 752.0,1115.7 754.1,1115.2 756.1,1114.7 758.2,1114.1 760.2,1113.5 762.3,1112.9 764.4,1112.3 766.4,1111.7 768.5,1111.1 770.6,1110.4 772.7,1109.7 774.7,1109.1 776.8,1108.4 778.9,1107.6 781.0,1106.9 783.1,1106.1 785.2,1105.4 787.3,1104.6 789.4,1103.8 791.5,1102.9 793.6,1102.1 795.8,1101.2 797.9,1100.3 800.0,1099.4 802.1,1098.4 804.2,1097.5 806.4,1096.5 808.5,1095.5 810.7,1094.4 812.8,1093.3 814.9,1092.3 817.1,1091.1 819.2,1090.0 821.4,1088.8 823.6,1087.6 825.7,1086.4 827.9,1085.1 830.1,1083.8 832.2,1082.5 834.4,1081.1 836.6,1079.7 838.8,1078.3 840.9,1076.8 843.1,1075.3 845.3,1073.7 847.5,1072.1 849.7,1070.5 851.9,1068.8 854.1,1067.1 856.3,1065.3 858.5,1063.5 860.8,1061.6 863.0,1059.7 865.2,1057.7 867.4,1055.7 869.6,1053.6 871.9,1051.4 874.1,1049.2 876.4,1047.0 878.6,1044.6 880.8,1042.2 883.1,1039.7 885.3,1037.2 887.6,1034.6 889.8,1031.9 892.1,1029.1 894.4,1026.2 896.6,1023.2 898.9,1020.2 901.2,1017.0 903.5,1013.7 905.7,1010.4 908.0,1006.9 910.3,1003.3 912.6,999.5 914.9,995.7 916.8,992.4" fill="none" stroke="#ff0000" stroke-width="4.7" stroke-linejoin="round" stroke-linecap="square" stroke-dasharray="11.5 11.5"/>
<polyline points="113.9,1186.4 114.2,1185.5 114.5,1184.8 114.7,1184.0 115.0,1183.1 115.4,1182.2 115.8,1181.4 116.1,1180.6 116.5,1179.7 116.9,1178.8 117.3,1177.9 117.8,1177.0 118.3,1176.0 118.9,1175.0 119.4,1173.9 119.8,1173.2 120.2,1172.5 120.6,1171.8 121.1,1171.1 121.5,1170.3 122.0,1169.6 122.5,1168.8 123.0,1168.1 123.5,1167.3 124.0,1166.5 124.5,1165.7 125.0,1165.0 125.6,1164.2 126.2,1163.4 126.8,1162.6 127.4,1161.7 128.0,1160.9 128.6,1160.1 129.2,1159.3 129.9,1158.5 130.6,1157.7 131.2,1156.9 131.9,1156.0 132.6,1155.2 133.4,1154.4 134.1,1153.6 134.8,1152.8 135.6,1151.9 136.4,1151.1 137.2,1150.3 138.0,1149.5 138.8,1148.6 139.6,1147.8 140.5,1147.0 141.3,1146.2 142.2,1145.3 143.1,1144.5 144.0,1143.7 144.9,1142.8 145.8,1142.0 146.7,1141.2 147.7,1140.3 148.6,1139.5 149.6,1138.7 150.6,1137.8 151.6,1137.0 152.6,1136.1 153.7,1135.3 154.7,1134.4 155.8,1133.5 156.9,1132.7 157.9,1131.8 159.0,1131.0 160.2,1130.2 161.3,1129.3 162.4,1128.5 163.6,1127.7 164.8,1126.8 165.9,1126.0 167.1,1125.2 168.3,1124.4 169.6,1123.6 170.8,1122.8 172.1,1122.0 173.3,1121.2 174.6,1120.4 175.9,1119.6 177.2,1118.9 178.5,1118.1 179.8,1117.3 181.2,1116.6 182.6,1115.8 183.9,1115.0 185.3,1114.3 186.7,1113.5 188.1,1112.8 188.8,1112.4 189.6,1112.1 190.3,1111.7 191.0,1111.4 191.7,1111.0 192.5,1110.6 193.2,1110.3 193.9,1109.9 194.7,1109.6 195.4,1109.2 196.1,1108.8 196.9,1108.5 197.6,1108.1 198.4,1107.8 199.2,1107.4 199.9,1107.0 200.7,1106.7 201.5,1106.3 202.2,1105.9 203.0,1105.6 203.8,1105.2 204.6,1104.8 205.4,1104.5 206.2,1104.1 206.9,1103.8 207.7,1103.4 208.5,1103.0 209.3,1102.7 210.2,1102.3 211.0,1101.9 211.8,1101.6 212.6,1101.2 213.4,1100.9 214.2,1100.5 215.1,1100.1 215.9,1099.8 216.7,1099.4 217.6,1099.1 218.4,1098.7 219.3,1098.4 220.1,1098.0 221.0,1097.7 221.8,1097.3 222.7,1097.0 223.5,1096.6 224.4,1096.3 225.3,1096.0 226.1,1095.6 227.0,1095.3 227.9,1094.9 228.8,1094.6 229.7,1094.3 230.5,1094.0 231.4,1093.6 232.3,1093.3 233.2,1093.0 234.1,1092.7 235.0,1092.4 236.0,1092.1 236.9,1091.8 237.8,1091.4 238.7,1091.1 239.6,1090.8 240.5,1090.5 241.5,1090.2 242.4,1089.9 243.3,1089.6 244.3,1089.3 245.2,1089.0 246.2,1088.7 247.1,1088.4 248.1,1088.1 249.0,1087.8 250.0,1087.5 251.0,1087.2 251.9,1087.0 252.9,1086.7 253.9,1086.4 254.8,1086.1 255.8,1085.8 256.8,1085.5 257.8,1085.3 258.8,1085.0 259.8,1084.7 260.8,1084.5 261.8,1084.2 262.8,1083.9 263.8,1083.7 264.8,1083.4 265.8,1083.1 266.8,1082.9 267.9,1082.6 268.9,1082.4 269.9,1082.1 270.9,1081.9 272.0,1081.6 273.0,1081.4 274.1,1081.2 275.1,1080.9 276.2,1080.7 277.2,1080.4 278.3,1080.2 279.3,1080.0 280.4,1079.8 281.4,1079.5 282.5,1079.3 283.6,1079.1 284.7,1078.9 285.7,1078.6 286.8,1078.4 287.9,1078.2 289.0,1078.0 290.1,1077.8 291.2,1077.6 292.3,1077.4 293.4,1077.2 294.5,1077.0 295.6,1076.8 296.7,1076.6 297.8,1076.4 299.0,1076.2 300.1,1076.0 301.2,1075.8 302.3,1075.6 303.5,1075.4 304.6,1075.2 305.7,1075.0 306.9,1074.8 308.0,1074.6 309.2,1074.4 310.3,1074.3 311.5,1074.1 312.7,1073.9 313.8,1073.7 315.0,1073.5 316.2,1073.4 317.3,1073.2 318.5,1073.0 319.7,1072.9 320.9,1072.7 322.1,1072.5 323.3,1072.4 324.5,1072.2 325.6,1072.0 326.9,1071.9 328.1,1071.7 329.3,1071.5 330.5,1071.4 331.7,1071.2 332.9,1071.1 334.1,1070.9 335.4,1070.8 336.6,1070.6 337.8,1070.5 339.1,1070.3 340.3,1070.2 341.5,1070.0 342.8,1069.9 344.0,1069.7 345.3,1069.6 346.5,1069.4 347.8,1069.3 349.1,1069.2 350.3,1069.0 351.6,1068.9 352.9,1068.7 354.1,1068.6 355.4,1068.5 356.7,1068.3 358.0,1068.2 359.3,1068.1 360.6,1067.9 361.9,1067.8 363.2,1067.7 364.5,1067.6 365.8,1067.4 367.1,1067.3 368.4,1067.2 369.7,1067.0 371.0,1066.9 372.4,1066.8 373.7,1066.7 375.0,1066.5 376.4,1066.4 377.7,1066.3 379.0,1066.2 380.4,1066.1 381.7,1065.9 383.1,1065.8 384.4,1065.7 385.8,1065.6 387.2,1065.5 388.5,1065.4 389.9,1065.3 391.3,1065.1 392.6,1065.0 394.0,1064.9 395.4,1064.8 396.8,1064.7 398.2,1064.6 399.6,1064.5 400.9,1064.4 402.3,1064.3 403.8,1064.2 405.2,1064.1 406.6,1064.0 408.0,1063.9 409.4,1063.8 410.8,1063.7 412.2,1063.6 413.7,1063.5 415.1,1063.4 416.5,1063.3 418.0,1063.2 419.4,1063.1 420.8,1063.0 422.3,1062.9 423.7,1062.8 425.2,1062.7 426.6,1062.6 428.1,1062.5 429.6,1062.4 431.0,1062.3 432.5,1062.2 434.0,1062.1 435.5,1062.0 436.9,1061.9 438.4,1061.8 439.9,1061.7 441.4,1061.7 442.9,1061.6 444.4,1061.5 445.9,1061.4 447.4,1061.3 448.9,1061.2 450.4,1061.1 451.9,1061.0 453.4,1060.9 455.0,1060.9 456.5,1060.8 458.0,1060.7 459.5,1060.6 461.1,1060.5 462.6,1060.4 464.2,1060.4 465.7,1060.3 467.2,1060.2 468.8,1060.1 470.4,1060.0 471.9,1059.9 473.5,1059.9 475.0,1059.8 476.6,1059.7 478.2,1059.6 479.8,1059.5 481.3,1059.4 482.9,1059.4 484.5,1059.3 486.1,1059.2 487.7,1059.1 489.3,1059.0 490.9,1058.9 492.5,1058.8 494.1,1058.8 495.7,1058.7 497.3,1058.6 498.9,1058.5 500.5,1058.4 502.2,1058.3 503.8,1058.2 505.4,1058.2 507.1,1058.1 508.7,1058.0 510.3,1057.9 512.0,1057.8 513.6,1057.7 515.3,1057.6 516.9,1057.5 518.6,1057.4 520.2,1057.3 521.9,1057.2 523.6,1057.1 525.2,1057.0 526.9,1056.9 528.6,1056.8 530.3,1056.7 532.0,1056.6 533.6,1056.5 535.3,1056.4 537.0,1056.2 538.7,1056.1 540.4,1056.0 542.1,1055.9 543.8,1055.8 545.6,1055.7 547.3,1055.5 549.0,1055.4 550.7,1055.3 552.4,1055.1 554.2,1055.0 555.9,1054.9 557.6,1054.7 559.4,1054.6 561.1,1054.5 562.9,1054.3 564.6,1054.2 566.4,1054.0 568.1,1053.9 569.9,1053.7 571.6,1053.6 573.4,1053.4 575.2,1053.3 576.9,1053.1 578.7,1053.0 580.5,1052.8 582.3,1052.6 584.1,1052.5 585.8,1052.3 587.6,1052.1 589.4,1051.9 591.2,1051.7 593.0,1051.5 594.8,1051.4 596.7,1051.2 598.5,1051.0 600.3,1050.7 602.1,1050.5 603.9,1050.3 605.8,1050.1 607.6,1049.9 609.4,1049.6 611.3,1049.4 613.1,1049.1 614.9,1048.9 616.8,1048.6 618.6,1048.4 620.5,1048.1 622.3,1047.8 624.2,1047.5 626.1,1047.2 627.9,1046.9 629.8,1046.6 631.7,1046.3 633.6,1046.0 635.4,1045.7 637.3,1045.4 639.2,1045.0 641.1,1044.7 643.0,1044.3 644.9,1044.0 646.8,1043.6 648.7,1043.3 650.6,1042.9 652.5,1042.5 654.4,1042.1 656.4,1041.7 658.3,1041.3 660.2,1040.9 662.1,1040.4 664.1,1040.0 666.0,1039.6 667.9,1039.1 669.9,1038.7 671.8,1038.2 673.8,1037.7 675.7,1037.2 677.7,1036.8 679.7,1036.2 681.6,1035.7 683.6,1035.2 685.5,1034.7 687.5,1034.1 689.5,1033.6 691.5,1033.0 693.5,1032.5 695.4,1031.9 697.4,1031.3 699.4,1030.7 701.4,1030.1 703.4,1029.4 705.4,1028.8 707.4,1028.1 709.4,1027.5 711.5,1026.8 713.5,1026.1 715.5,1025.4 717.5,1024.6 719.6,1023.9 721.6,1023.2 723.6,1022.4 725.7,1021.6 727.7,1020.8 729.7,1020.0 731.8,1019.2 733.8,1018.3 735.9,1017.4 737.9,1016.6 740.0,1015.7 742.1,1014.7 744.1,1013.8 746.2,1012.8 748.3,1011.9 750.4,1010.9 752.4,1009.9 754.5,1008.8 756.6,1007.8 758.7,1006.7 760.8,1005.6 762.9,1004.4 765.0,1003.3 767.1,1002.1 769.2,1000.9 771.3,999.7 773.5,998.4 775.6,997.1 777.7,995.8 779.8,994.5 781.9,993.1 784.1,991.7 786.2,990.3 788.4,988.8 790.5,987.3 792.6,985.8 794.8,984.3 796.9,982.7 799.1,981.1 801.3,979.4 803.4,977.8 805.6,976.0 807.8,974.3 809.9,972.5 812.1,970.6 814.3,968.7 816.5,966.8 818.7,964.8 820.9,962.8 823.1,960.7 825.2,958.6 827.4,956.4 829.7,954.2 831.9,951.9 834.1,949.6 836.3,947.2 838.5,944.7 840.7,942.2 842.9,939.6 845.2,937.0 847.4,934.3 849.6,931.5 851.9,928.6 854.1,925.7 856.4,922.7 858.6,919.6 860.9,916.5 863.1,913.2 865.4,909.9 867.6,906.4 869.9,902.9 872.2,899.3 874.4,895.6 876.7,891.7 879.0,887.8 881.3,883.7 883.6,879.6 885.9,875.3 888.1,870.9 890.4,866.3 892.7,861.6 895.0,856.8 897.4,851.8 899.7,846.6 902.0,841.3 904.3,835.9 906.6,830.2 908.9,824.4 911.3,818.3 913.6,812.1 915.9,805.6 918.3,798.9 920.6,792.0 922.9,784.8 925.3,777.4 927.6,769.6 930.0,761.6 932.4,753.3 934.7,744.6 937.1,735.6 939.4,726.2 941.8,716.4 943.0,711.4" fill="none" stroke="#00ff00" stroke-width="4.7" stroke-linejoin="round" stroke-linecap="square"/>
<polyline points="1174.8,1162.9 1175.4,1163.8 1176.2,1164.8 1176.8,1165.5 1177.5,1166.2 1178.3,1166.9 1179.1,1167.6 1180.0,1168.3 1181.0,1169.1 1182.0,1169.8 1183.0,1170.5 1184.1,1171.2 1185.2,1171.9 1186.4,1172.6 1187.7,1173.4 1188.9,1174.0 1190.2,1174.7 1191.6,1175.4 1192.9,1176.1 1194.3,1176.7 1195.8,1177.4 1196.5,1177.7 1197.3,1178.0 1198.0,1178.3 1198.8,1178.6 1199.6,1179.0 1200.3,1179.3 1201.1,1179.6 1201.9,1179.9 1202.7,1180.2 1203.5,1180.5 1204.3,1180.7 1205.2,1181.0 1206.0,1181.3 1206.8,1181.6 1207.7,1181.9 1208.5,1182.2 1209.4,1182.4 1210.3,1182.7 1211.2,1183.0 1212.0,1183.2 1212.9,1183.5 1213.8,1183.7 1214.7,1184.0 1215.6,1184.2 1216.6,1184.5 1217.5,1184.7 1218.4,1185.0 1219.3,1185.2 1220.3,1185.4 1221.2,1185.7 1222.2,1185.9 1223.2,1186.1 1224.1,1186.3 1225.1,1186.6 1226.1,1186.8 1227.1,1187.0 1228.1,1187.2 1229.1,1187.4 1230.1,1187.6 1231.1,1187.8 1232.1,1188.0 1233.2,1188.2 1234.2,1188.4 1235.2,1188.5 1236.3,1188.7 1237.3,1188.9 1238.4,1189.1 1239.4,1189.2 1240.5,1189.4 1241.6,1189.6 1242.7,1189.7 1243.7,1189.9 1244.8,1190.0 1245.9,1190.2 1247.0,1190.3 1248.1,1190.4 1249.3,1190.6 1250.4,1190.7 1251.5,1190.8 1252.6,1191.0 1253.8,1191.1 1254.9,1191.2 1256.1,1191.3 1257.2,1191.4 1258.4,1191.5 1259.5,1191.7 1260.7,1191.8 1261.9,1191.8 1263.1,1191.9 1264.2,1192.0 1265.4,1192.1 1266.6,1192.2 1267.8,1192.3 1269.0,1192.4 1270.2,1192.4 1271.5,1192.5 1272.7,1192.6 1273.9,1192.6 1275.1,1192.7 1276.4,1192.7 1277.6,1192.8 1278.9,1192.8 1280.1,1192.9 1281.4,1192.9 1282.6,1193.0 1283.9,1193.0 1285.2,1193.0 1286.4,1193.0 1287.7,1193.1 1289.0,1193.1 1290.3,1193.1 1291.6,1193.1 1292.9,1193.1 1294.2,1193.1 1295.5,1193.1 1296.8,1193.1 1298.1,1193.1 1299.5,1193.1 1300.8,1193.1 1302.1,1193.1 1303.5,1193.1 1304.8,1193.0 1306.2,1193.0 1307.5,1193.0 1308.9,1192.9 1310.2,1192.9 1311.6,1192.9 1313.0,1192.8 1314.3,1192.8 1315.7,1192.7 1317.1,1192.7 1318.5,1192.6 1319.9,1192.5 1321.3,1192.5 1322.7,1192.4 1324.1,1192.3 1325.5,1192.2 1326.9,1192.2 1328.3,1192.1 1329.8,1192.0 1331.2,1191.9 1332.6,1191.8 1334.1,1191.7 1335.5,1191.6 1336.9,1191.5 1338.4,1191.4 1339.8,1191.3 1341.3,1191.1 1342.8,1191.0 1344.2,1190.9 1345.7,1190.8 1347.2,1190.6 1348.7,1190.5 1350.1,1190.4 1351.6,1190.2 1353.1,1190.1 1354.6,1189.9 1356.1,1189.8 1357.6,1189.6 1359.1,1189.5 1360.6,1189.3 1362.2,1189.1 1363.7,1189.0 1365.2,1188.8 1366.7,1188.6 1368.3,1188.4 1369.8,1188.2 1371.4,1188.1 1372.9,1187.9 1374.4,1187.7 1376.0,1187.5 1377.6,1187.3 1379.1,1187.1 1380.7,1186.9 1382.3,1186.6 1383.8,1186.4 1385.4,1186.2 1387.0,1186.0 1388.6,1185.7 1390.2,1185.5 1391.8,1185.3 1393.4,1185.0 1395.0,1184.8 1396.6,1184.6 1398.2,1184.3 1399.8,1184.1 1401.4,1183.8 1403.0,1183.5 1404.6,1183.3 1406.3,1183.0 1407.9,1182.8 1409.5,1182.5 1411.2,1182.2 1412.8,1181.9 1414.5,1181.6 1416.1,1181.4 1417.8,1181.1 1419.4,1180.8 1421.1,1180.5 1422.8,1180.2 1424.4,1179.9 1426.1,1179.6 1427.8,1179.2 1429.5,1178.9 1431.1,1178.6 1432.8,1178.3 1434.5,1178.0 1436.2,1177.6 1437.9,1177.3 1439.6,1177.0 1441.3,1176.6 1443.0,1176.3 1444.8,1175.9 1446.5,1175.6 1448.2,1175.2 1449.9,1174.9 1451.6,1174.5 1453.4,1174.2 1455.1,1173.8 1456.9,1173.4 1458.6,1173.0 1460.3,1172.7 1462.1,1172.3 1463.8,1171.9 1465.6,1171.5 1467.4,1171.1 1469.1,1170.7 1470.9,1170.3 1472.7,1169.9 1474.4,1169.5 1476.2,1169.1 1478.0,1168.7 1479.8,1168.3 1481.6,1167.9 1483.4,1167.5 1485.2,1167.0 1487.0,1166.6 1488.8,1166.2 1490.6,1165.7 1492.4,1165.3 1494.2,1164.8 1496.0,1164.4 1497.8,1164.0 1499.7,1163.5 1501.5,1163.0 1503.3,1162.6 1505.1,1162.1 1507.0,1161.7 1508.8,1161.2 1510.7,1160.7 1512.5,1160.2 1514.4,1159.8 1516.2,1159.3 1518.1,1158.8 1519.9,1158.3 1521.8,1157.8 1523.7,1157.3 1525.5,1156.8 1527.4,1156.3 1529.3,1155.8 1531.2,1155.3 1533.1,1154.8 1534.9,1154.2 1536.8,1153.7 1538.7,1153.2 1540.6,1152.7 1542.5,1152.1 1544.4,1151.6 1546.3,1151.1 1548.2,1150.5 1550.2,1150.0 1552.1,1149.4 1554.0,1148.9 1555.9,1148.3 1557.8,1147.8 1559.8,1147.2 1561.7,1146.6 1563.6,1146.1 1565.6,1145.5 1567.5,1144.9 1569.5,1144.3 1571.4,1143.8 1573.4,1143.2 1575.3,1142.6 1577.3,1142.0 1579.3,1141.4 1581.2,1140.8 1583.2,1140.2 1585.2,1139.6 1587.1,1139.0 1589.1,1138.4 1591.1,1137.8 1593.1,1137.1 1595.1,1136.5 1597.0,1135.9 1599.0,1135.3 1601.0,1134.6 1603.0,1134.0 1605.0,1133.4 1607.0,1132.7 1609.1,1132.1 1611.1,1131.4 1613.1,1130.8 1615.1,1130.1 1617.1,1129.5 1619.1,1128.8 1621.2,1128.1 1623.2,1127.5 1625.2,1126.8 1627.3,1126.1 1629.3,1125.4 1631.4,1124.8 1633.4,1124.1 1635.5,1123.4 1637.5,1122.7 1639.6,1122.0 1641.6,1121.3 1643.7,1120.6 1645.7,1119.9 1647.8,1119.2 1649.9,1118.5 1652.0,1117.8 1654.0,1117.0 1656.1,1116.3 1658.2,1115.6 1660.3,1114.9 1662.4,1114.1 1664.5,1113.4 1666.5,1112.7 1668.6,1111.9 1670.7,1111.2 1672.8,1110.4 1675.0,1109.7 1677.1,1108.9 1679.2,1108.2 1681.3,1107.4 1683.4,1106.6 1685.5,1105.9 1687.6,1105.1 1689.8,1104.3 1691.9,1103.6 1694.0,1102.8 1696.2,1102.0 1698.3,1101.2 1700.5,1100.4 1702.6,1099.6 1704.7,1098.8 1706.9,1098.0 1709.0,1097.2 1711.2,1096.4 1713.4,1095.6 1715.5,1094.8 1717.7,1094.0 1719.9,1093.2 1722.0,1092.3 1724.2,1091.5 1726.4,1090.7 1728.6,1089.8 1730.7,1089.0 1732.9,1088.2 1735.1,1087.3 1737.3,1086.5 1739.5,1085.6 1741.7,1084.8 1743.9,1083.9 1746.1,1083.1 1748.3,1082.2 1750.5,1081.3 1752.7,1080.5 1754.9,1079.6 1757.1,1078.7 1759.4,1077.8 1761.6,1077.0 1763.8,1076.1 1766.0,1075.2 1768.3,1074.3 1770.5,1073.4 1772.7,1072.5 1775.0,1071.6 1777.2,1070.7 1779.4,1069.8 1781.7,1068.9 1783.9,1068.0 1786.2,1067.1 1788.4,1066.1 1790.7,1065.2 1793.0,1064.3 1795.2,1063.4 1797.5,1062.4 1799.8,1061.5 1802.0,1060.6 1804.3,1059.6 1806.6,1058.7 1808.9,1057.7 1811.1,1056.8 1813.4,1055.8 1815.7,1054.9 1818.0,1053.9 1820.3,1052.9 1822.6,1052.0 1824.9,1051.0 1827.2,1050.0 1829.5,1049.0 1831.8,1048.1 1834.1,1047.1 1836.4,1046.1 1838.7,1045.1 1841.1,1044.1 1843.4,1043.1 1845.7,1042.1 1848.0,1041.1 1850.4,1040.1 1852.7,1039.1 1855.0,1038.1 1857.4,1037.1 1859.7,1036.1 1862.0,1035.0 1864.4,1034.0 1866.7,1033.0 1869.1,1031.9 1871.4,1030.9 1873.8,1029.9 1876.1,1028.8 1878.5,1027.8 1880.9,1026.7 1883.2,1025.7 1885.6,1024.6 1888.0,1023.6 1890.3,1022.5 1892.7,1021.5 1895.1,1020.4 1897.5,1019.3 1899.9,1018.3 1902.2,1017.2 1904.6,1016.1 1907.0,1015.0 1909.4,1013.9 1911.8,1012.9 1914.2,1011.8 1916.6,1010.7 1919.0,1009.6 1921.4,1008.5 1923.8,1007.4 1926.3,1006.3 1928.7,1005.2 1931.1,1004.0 1933.5,1002.9 1935.9,1001.8 1938.4,1000.7 1940.8,999.6 1943.2,998.4 1945.6,997.3 1948.1,996.2 1950.5,995.0 1953.0,993.9 1955.4,992.7 1957.8,991.6 1960.3,990.4 1962.7,989.3 1965.2,988.1 1967.7,987.0 1970.1,985.8 1972.6,984.7 1975.0,983.5 1977.5,982.3 1980.0,981.1 1982.4,980.0 1984.9,978.8 1987.4,977.6 1989.9,976.4 1992.4,975.2 1994.8,974.0 1997.3,972.8 1999.8,971.6 2002.3,970.4 2004.8,969.2" fill="none" stroke="#0000ff" stroke-width="4.7" stroke-linejoin="round" stroke-linecap="square" stroke-dasharray="3.3 11.1"/>
<polyline points="1174.8,1162.9 1175.4,1163.7 1176.2,1164.5 1176.8,1165.1 1177.5,1165.7 1178.3,1166.3 1179.1,1166.9 1180.0,1167.5 1181.0,1168.1 1182.0,1168.6 1183.0,1169.2 1184.1,1169.8 1185.2,1170.3 1186.4,1170.9 1187.7,1171.4 1188.9,1172.0 1190.2,1172.5 1191.6,1173.0 1192.9,1173.5 1194.3,1174.0 1195.8,1174.4 1197.3,1174.9 1198.8,1175.3 1200.3,1175.8 1201.1,1176.0 1201.9,1176.2 1202.7,1176.4 1203.5,1176.6 1204.3,1176.8 1205.2,1176.9 1206.0,1177.1 1206.8,1177.3 1207.7,1177.5 1208.5,1177.7 1209.4,1177.8 1210.3,1178.0 1211.2,1178.2 1212.0,1178.3 1212.9,1178.5 1213.8,1178.6 1214.7,1178.8 1215.6,1178.9 1216.6,1179.1 1217.5,1179.2 1218.4,1179.3 1219.3,1179.5 1220.3,1179.6 1221.2,1179.7 1222.2,1179.8 1223.2,1180.0 1224.1,1180.1 1225.1,1180.2 1226.1,1180.3 1227.1,1180.4 1228.1,1180.5 1229.1,1180.6 1230.1,1180.7 1231.1,1180.7 1232.1,1180.8 1233.2,1180.9 1234.2,1181.0 1235.2,1181.0 1236.3,1181.1 1237.3,1181.2 1238.4,1181.2 1239.4,1181.3 1240.5,1181.3 1241.6,1181.4 1242.7,1181.4 1243.7,1181.4 1244.8,1181.5 1245.9,1181.5 1247.0,1181.5 1248.1,1181.5 1249.3,1181.6 1250.4,1181.6 1251.5,1181.6 1252.6,1181.6 1253.8,1181.6 1254.9,1181.6 1256.1,1181.6 1257.2,1181.6 1258.4,1181.6 1259.5,1181.5 1260.7,1181.5 1261.9,1181.5 1263.1,1181.5 1264.2,1181.4 1265.4,1181.4 1266.6,1181.3 1267.8,1181.3 1269.0,1181.2 1270.2,1181.2 1271.5,1181.1 1272.7,1181.1 1273.9,1181.0 1275.1,1180.9 1276.4,1180.9 1277.6,1180.8 1278.9,1180.7 1280.1,1180.6 1281.4,1180.5 1282.6,1180.4 1283.9,1180.3 1285.2,1180.2 1286.4,1180.1 1287.7,1180.0 1289.0,1179.9 1290.3,1179.8 1291.6,1179.7 1292.9,1179.5 1294.2,1179.4 1295.5,1179.3 1296.8,1179.1 1298.1,1179.0 1299.5,1178.8 1300.8,1178.7 1302.1,1178.5 1303.5,1178.4 1304.8,1178.2 1306.2,1178.0 1307.5,1177.9 1308.9,1177.7 1310.2,1177.5 1311.6,1177.3 1313.0,1177.2 1314.3,1177.0 1315.7,1176.8 1317.1,1176.6 1318.5,1176.4 1319.9,1176.2 1321.3,1176.0 1322.7,1175.7 1324.1,1175.5 1325.5,1175.3 1326.9,1175.1 1328.3,1174.8 1329.8,1174.6 1331.2,1174.4 1332.6,1174.1 1334.1,1173.9 1335.5,1173.6 1336.9,1173.4 1338.4,1173.1 1339.8,1172.9 1341.3,1172.6 1342.8,1172.3 1344.2,1172.1 1345.7,1171.8 1347.2,1171.5 1348.7,1171.2 1350.1,1170.9 1351.6,1170.6 1353.1,1170.3 1354.6,1170.0 1356.1,1169.7 1357.6,1169.4 1359.1,1169.1 1360.6,1168.8 1362.2,1168.5 1363.7,1168.2 1365.2,1167.8 1366.7,1167.5 1368.3,1167.2 1369.8,1166.8 1371.4,1166.5 1372.9,1166.1 1374.4,1165.8 1376.0,1165.4 1377.6,1165.1 1379.1,1164.7 1380.7,1164.3 1382.3,1163.9 1383.8,1163.6 1385.4,1163.2 1387.0,1162.8 1388.6,1162.4 1390.2,1162.0 1391.8,1161.6 1393.4,1161.2 1395.0,1160.8 1396.6,1160.4 1398.2,1160.0 1399.8,1159.6 1401.4,1159.2 1403.0,1158.8 1404.6,1158.3 1406.3,1157.9 1407.9,1157.5 1409.5,1157.0 1411.2,1156.6 1412.8,1156.1 1414.5,1155.7 1416.1,1155.2 1417.8,1154.8 1419.4,1154.3 1421.1,1153.8 1422.8,1153.4 1424.4,1152.9 1426.1,1152.4 1427.8,1151.9 1429.5,1151.4 1431.1,1151.0 1432.8,1150.5 1434.5,1150.0 1436.2,1149.5 1437.9,1149.0 1439.6,1148.5 1441.3,1147.9 1443.0,1147.4 1444.8,1146.9 1446.5,1146.4 1448.2,1145.8 1449.9,1145.3 1451.6,1144.8 1453.4,1144.2 1455.1,1143.7 1456.9,1143.1 1458.6,1142.6 1460.3,1142.0 1462.1,1141.5 1463.8,1140.9 1465.6,1140.3 1467.4,1139.8 1469.1,1139.2 1470.9,1138.6 1472.7,1138.0 1474.4,1137.4 1476.2,1136.8 1478.0,1136.3 1479.8,1135.7 1481.6,1135.1 1483.4,1134.4 1485.2,1133.8 1487.0,1133.2 1488.8,1132.6 1490.6,1132.0 1492.4,1131.3 1494.2,1130.7 1496.0,1130.1 1497.8,1129.4 1499.7,1128.8 1501.5,1128.2 1503.3,1127.5 1505.1,1126.9 1507.0,1126.2 1508.8,1125.5 1510.7,1124.9 1512.5,1124.2 1514.4,1123.5 1516.2,1122.8 1518.1,1122.2 1519.9,1121.5 1521.8,1120.8 1523.7,1120.1 1525.5,1119.4 1527.4,1118.7 1529.3,1118.0 1531.2,1117.3 1533.1,1116.6 1534.9,1115.9 1536.8,1115.1 1538.7,1114.4 1540.6,1113.7 1542.5,1113.0 1544.4,1112.2 1546.3,1111.5 1548.2,1110.7 1550.2,1110.0 1552.1,1109.2 1554.0,1108.5 1555.9,1107.7 1557.8,1107.0 1559.8,1106.2 1561.7,1105.4 1563.6,1104.7 1565.6,1103.9 1567.5,1103.1 1569.5,1102.3 1571.4,1101.5 1573.4,1100.7 1575.3,1099.9 1577.3,1099.1 1579.3,1098.3 1581.2,1097.5 1583.2,1096.7 1585.2,1095.9 1587.1,1095.1 1589.1,1094.2 1591.1,1093.4 1593.1,1092.6 1595.1,1091.7 1597.0,1090.9 1599.0,1090.1 1601.0,1089.2 1603.0,1088.4 1605.0,1087.5 1607.0,1086.6 1609.1,1085.8 1611.1,1084.9 1613.1,1084.0 1615.1,1083.2 1617.1,1082.3 1619.1,1081.4 1621.2,1080.5 1623.2,1079.6 1625.2,1078.7 1627.3,1077.8 1629.3,1076.9 1631.4,1076.0 1633.4,1075.1 1635.5,1074.2 1637.5,1073.3 1639.6,1072.4 1641.6,1071.4 1643.7,1070.5 1645.7,1069.6 1647.8,1068.6 1649.9,1067.7 1652.0,1066.8 1654.0,1065.8 1656.1,1064.9 1658.2,1063.9 1660.3,1062.9 1662.4,1062.0 1664.5,1061.0 1666.5,1060.0 1668.6,1059.1 1670.7,1058.1 1672.8,1057.1 1675.0,1056.1 1677.1,1055.1 1679.2,1054.1 1681.3,1053.1 1683.4,1052.1 1685.5,1051.1 1687.6,1050.1 1689.8,1049.1 1691.9,1048.1 1694.0,1047.1 1696.2,1046.0 1698.3,1045.0 1700.5,1044.0 1702.6,1042.9 1704.7,1041.9 1706.9,1040.9 1709.0,1039.8 1711.2,1038.8 1713.4,1037.7 1715.5,1036.6 1717.7,1035.6 1719.9,1034.5 1722.0,1033.4 1724.2,1032.4 1726.4,1031.3 1728.6,1030.2 1730.7,1029.1 1732.9,1028.0 1735.1,1026.9 1737.3,1025.8 1739.5,1024.7 1741.7,1023.6 1743.9,1022.5 1746.1,1021.4 1748.3,1020.3 1750.5,1019.2 1752.7,1018.0 1754.9,1016.9 1757.1,1015.8 1759.4,1014.6 1761.6,1013.5 1763.8,1012.4 1766.0,1011.2 1768.3,1010.1 1770.5,1008.9 1772.7,1007.7 1775.0,1006.6 1777.2,1005.4 1779.4,1004.2 1781.7,1003.1 1783.9,1001.9 1786.2,1000.7 1788.4,999.5 1790.7,998.3 1793.0,997.1 1795.2,995.9 1797.5,994.7 1799.8,993.5 1802.0,992.3 1804.3,991.1 1806.6,989.9 1808.9,988.7 1811.1,987.5 1813.4,986.2 1815.7,985.0 1818.0,983.8 1820.3,982.5 1822.6,981.3 1824.9,980.0 1827.2,978.8 1829.5,977.5 1831.8,976.3 1834.1,975.0 1836.4,973.8 1838.7,972.5 1841.1,971.2 1843.4,970.0 1845.7,968.7 1848.0,967.4 1850.4,966.1 1852.7,964.8 1855.0,963.6 1857.4,962.3 1859.7,961.0 1862.0,959.7 1864.4,958.4 1866.7,957.1 1869.1,955.8 1871.4,954.4 1873.8,953.1 1876.1,951.8 1878.5,950.5 1880.9,949.1 1883.2,947.8 1885.6,946.5 1888.0,945.1 1890.3,943.8 1892.7,942.5 1895.1,941.1 1897.5,939.8 1899.9,938.4 1902.2,937.0 1904.6,935.7 1907.0,934.3 1909.4,932.9 1911.8,931.6 1914.2,930.2 1916.6,928.8 1919.0,927.4 1921.4,926.0 1923.8,924.6 1926.3,923.2 1928.7,921.8 1931.1,920.4 1933.5,919.0 1935.9,917.6 1938.4,916.2 1940.8,914.8 1943.2,913.3 1945.6,911.9 1948.1,910.5 1950.5,909.1 1953.0,907.6 1955.4,906.2 1957.8,904.7 1960.3,903.3 1962.7,901.8 1965.2,900.4 1967.7,898.9 1970.1,897.4 1972.6,896.0 1975.0,894.5 1977.5,893.0 1980.0,891.5 1982.4,890.1 1984.9,888.6 1987.4,887.1 1989.9,885.6 1992.4,884.1 1994.8,882.6 1997.3,881.1 1999.8,879.6 2002.3,878.0 2004.8,876.5" fill="none" stroke="#ff0000" stroke-width="4.7" stroke-linejoin="round" stroke-linecap="square" stroke-dasharray="11.5 11.5" stroke-dashoffset="-1.5"/>
<polyline points="1174.8,1162.9 1175.4,1163.7 1176.2,1164.4 1177.2,1165.1 1177.9,1165.6 1178.7,1166.0 1179.6,1166.5 1180.5,1166.9 1181.5,1167.3 1182.5,1167.8 1183.6,1168.1 1184.7,1168.5 1185.8,1168.9 1187.0,1169.2 1188.3,1169.5 1189.6,1169.8 1190.9,1170.1 1192.2,1170.4 1193.6,1170.6 1195.1,1170.8 1196.5,1171.0 1198.0,1171.2 1199.6,1171.4 1201.1,1171.5 1202.7,1171.6 1203.5,1171.7 1204.3,1171.7 1205.2,1171.7 1206.0,1171.8 1206.8,1171.8 1207.7,1171.8 1208.5,1171.8 1209.4,1171.9 1210.3,1171.9 1211.2,1171.9 1212.0,1171.9 1212.9,1171.8 1213.8,1171.8 1214.7,1171.8 1215.6,1171.8 1216.6,1171.8 1217.5,1171.7 1218.4,1171.7 1219.3,1171.6 1220.3,1171.6 1221.2,1171.5 1222.2,1171.5 1223.2,1171.4 1224.1,1171.3 1225.1,1171.2 1226.1,1171.2 1227.1,1171.1 1228.1,1171.0 1229.1,1170.9 1230.1,1170.8 1231.1,1170.7 1232.1,1170.6 1233.2,1170.4 1234.2,1170.3 1235.2,1170.2 1236.3,1170.0 1237.3,1169.9 1238.4,1169.8 1239.4,1169.6 1240.5,1169.5 1241.6,1169.3 1242.7,1169.1 1243.7,1169.0 1244.8,1168.8 1245.9,1168.6 1247.0,1168.4 1248.1,1168.2 1249.3,1168.0 1250.4,1167.8 1251.5,1167.6 1252.6,1167.4 1253.8,1167.2 1254.9,1166.9 1256.1,1166.7 1257.2,1166.5 1258.4,1166.2 1259.5,1166.0 1260.7,1165.8 1261.9,1165.5 1263.1,1165.2 1264.2,1165.0 1265.4,1164.7 1266.6,1164.4 1267.8,1164.1 1269.0,1163.9 1270.2,1163.6 1271.5,1163.3 1272.7,1163.0 1273.9,1162.7 1275.1,1162.4 1276.4,1162.0 1277.6,1161.7 1278.9,1161.4 1280.1,1161.1 1281.4,1160.7 1282.6,1160.4 1283.9,1160.0 1285.2,1159.7 1286.4,1159.3 1287.7,1159.0 1289.0,1158.6 1290.3,1158.2 1291.6,1157.9 1292.9,1157.5 1294.2,1157.1 1295.5,1156.7 1296.8,1156.3 1298.1,1155.9 1299.5,1155.5 1300.8,1155.1 1302.1,1154.7 1303.5,1154.3 1304.8,1153.8 1306.2,1153.4 1307.5,1153.0 1308.9,1152.5 1310.2,1152.1 1311.6,1151.6 1313.0,1151.2 1314.3,1150.7 1315.7,1150.3 1317.1,1149.8 1318.5,1149.3 1319.9,1148.8 1321.3,1148.4 1322.7,1147.9 1324.1,1147.4 1325.5,1146.9 1326.9,1146.4 1328.3,1145.9 1329.8,1145.4 1331.2,1144.9 1332.6,1144.4 1334.1,1143.8 1335.5,1143.3 1336.9,1142.8 1338.4,1142.2 1339.8,1141.7 1341.3,1141.1 1342.8,1140.6 1344.2,1140.0 1345.7,1139.5 1347.2,1138.9 1348.7,1138.3 1350.1,1137.8 1351.6,1137.2 1353.1,1136.6 1354.6,1136.0 1356.1,1135.4 1357.6,1134.8 1359.1,1134.2 1360.6,1133.6 1362.2,1133.0 1363.7,1132.4 1365.2,1131.8 1366.7,1131.1 1368.3,1130.5 1369.8,1129.9 1371.4,1129.2 1372.9,1128.6 1374.4,1127.9 1376.0,1127.3 1377.6,1126.6 1379.1,1125.9 1380.7,1125.3 1382.3,1124.6 1383.8,1123.9 1385.4,1123.2 1387.0,1122.5 1388.6,1121.8 1390.2,1121.1 1391.8,1120.4 1393.4,1119.7 1395.0,1119.0 1396.6,1118.3 1398.2,1117.6 1399.8,1116.8 1401.4,1116.1 1403.0,1115.4 1404.6,1114.6 1406.3,1113.9 1407.9,1113.1 1409.5,1112.4 1411.2,1111.6 1412.8,1110.8 1414.5,1110.0 1416.1,1109.3 1417.8,1108.5 1419.4,1107.7 1421.1,1106.9 1422.8,1106.1 1424.4,1105.3 1426.1,1104.5 1427.8,1103.7 1429.5,1102.8 1431.1,1102.0 1432.8,1101.2 1434.5,1100.3 1436.2,1099.5 1437.9,1098.6 1439.6,1097.8 1441.3,1096.9 1443.0,1096.1 1444.8,1095.2 1446.5,1094.3 1448.2,1093.4 1449.9,1092.5 1451.6,1091.7 1453.4,1090.8 1455.1,1089.9 1456.9,1089.0 1458.6,1088.0 1460.3,1087.1 1462.1,1086.2 1463.8,1085.3 1465.6,1084.3 1467.4,1083.4 1469.1,1082.5 1470.9,1081.5 1472.7,1080.6 1474.4,1079.6 1476.2,1078.6 1478.0,1077.7 1479.8,1076.7 1481.6,1075.7 1483.4,1074.7 1485.2,1073.7 1487.0,1072.8 1488.8,1071.8 1490.6,1070.8 1492.4,1069.7 1494.2,1068.7 1496.0,1067.7 1497.8,1066.7 1499.7,1065.7 1501.5,1064.6 1503.3,1063.6 1505.1,1062.6 1507.0,1061.5 1508.8,1060.5 1510.7,1059.4 1512.5,1058.4 1514.4,1057.3 1516.2,1056.2 1518.1,1055.2 1519.9,1054.1 1521.8,1053.0 1523.7,1051.9 1525.5,1050.8 1527.4,1049.7 1529.3,1048.6 1531.2,1047.5 1533.1,1046.4 1534.9,1045.3 1536.8,1044.2 1538.7,1043.1 1540.6,1042.0 1542.5,1040.9 1544.4,1039.7 1546.3,1038.6 1548.2,1037.5 1550.2,1036.3 1552.1,1035.2 1554.0,1034.0 1555.9,1032.9 1557.8,1031.7 1559.8,1030.6 1561.7,1029.4 1563.6,1028.2 1565.6,1027.1 1567.5,1025.9 1569.5,1024.7 1571.4,1023.5 1573.4,1022.3 1575.3,1021.1 1577.3,1019.9 1579.3,1018.7 1581.2,1017.5 1583.2,1016.3 1585.2,1015.1 1587.1,1013.9 1589.1,1012.7 1591.1,1011.5 1593.1,1010.2 1595.1,1009.0 1597.0,1007.8 1599.0,1006.5 1601.0,1005.3 1603.0,1004.0 1605.0,1002.8 1607.0,1001.5 1609.1,1000.2 1611.1,999.0 1613.1,997.7 1615.1,996.4 1617.1,995.1 1619.1,993.8 1621.2,992.5 1623.2,991.2 1625.2,989.9 1627.3,988.6 1629.3,987.3 1631.4,986.0 1633.4,984.7 1635.5,983.4 1637.5,982.1 1639.6,980.7 1641.6,979.4 1643.7,978.0 1645.7,976.7 1647.8,975.3 1649.9,974.0 1652.0,972.6 1654.0,971.2 1656.1,969.9 1658.2,968.5 1660.3,967.1 1662.4,965.7 1664.5,964.3 1666.5,962.9 1668.6,961.5 1670.7,960.1 1672.8,958.7 1675.0,957.2 1677.1,955.8 1679.2,954.4 1681.3,952.9 1683.4,951.5 1685.5,950.0 1687.6,948.6 1689.8,947.1 1691.9,945.7 1694.0,944.2 1696.2,942.7 1698.3,941.2 1700.5,939.8 1702.6,938.3 1704.7,936.8 1706.9,935.3 1709.0,933.8 1711.2,932.3 1713.4,930.8 1715.5,929.3 1717.7,927.7 1719.9,926.2 1722.0,924.7 1724.2,923.2 1726.4,921.6 1728.6,920.1 1730.7,918.6 1732.9,917.0 1735.1,915.5 1737.3,913.9 1739.5,912.4 1741.7,910.8 1743.9,909.2 1746.1,907.7 1748.3,906.1 1750.5,904.5 1752.7,903.0 1754.9,901.4 1757.1,899.8 1759.4,898.2 1761.6,896.7 1763.8,895.1 1766.0,893.5 1768.3,891.9 1770.5,890.3 1772.7,888.7 1775.0,887.1 1777.2,885.5 1779.4,883.9 1781.7,882.3 1783.9,880.7 1786.2,879.1 1788.4,877.4 1790.7,875.8 1793.0,874.2 1795.2,872.6 1797.5,870.9 1799.8,869.3 1802.0,867.6 1804.3,866.0 1806.6,864.3 1808.9,862.7 1811.1,861.0 1813.4,859.4 1815.7,857.7 1818.0,856.0 1820.3,854.4 1822.6,852.7 1824.9,851.0 1827.2,849.3 1829.5,847.6 1831.8,845.9 1834.1,844.2 1836.4,842.5 1838.7,840.8 1841.1,839.1 1843.4,837.3 1845.7,835.6 1848.0,833.9 1850.4,832.1 1852.7,830.4 1855.0,828.7 1857.4,826.9 1859.7,825.1 1862.0,823.4 1864.4,821.6 1866.7,819.8 1869.1,818.1 1871.4,816.3 1873.8,814.5 1876.1,812.7 1878.5,810.9 1880.9,809.1 1883.2,807.3 1885.6,805.5 1888.0,803.6 1890.3,801.8 1892.7,800.0 1895.1,798.2 1897.5,796.3 1899.9,794.5 1902.2,792.6 1904.6,790.8 1907.0,788.9 1909.4,787.1 1911.8,785.2 1914.2,783.3 1916.6,781.5 1919.0,779.6 1921.4,777.7 1923.8,775.8 1926.3,774.0 1928.7,772.1 1931.1,770.2 1933.5,768.3 1935.9,766.4 1938.4,764.5 1940.8,762.6 1943.2,760.6 1945.6,758.7 1948.1,756.8 1950.5,754.9 1953.0,753.0 1955.4,751.0 1957.8,749.1 1960.3,747.2 1962.7,745.2 1965.2,743.3 1967.7,741.3 1970.1,739.4 1972.6,737.4 1975.0,735.5 1977.5,733.5 1980.0,731.6 1982.4,729.6 1984.9,727.6 1987.4,725.6 1989.9,723.7 1992.4,721.7 1994.8,719.7 1997.3,717.7 1999.8,715.7 2002.3,713.7 2004.8,711.7" fill="none" stroke="#00ff00" stroke-width="4.7" stroke-linejoin="round" stroke-linecap="square"/>
<text transform="translate(-3.1 279.6) scale(1 1.03)" text-anchor="start" class="l">F</text>
<text transform="translate(-2 962.1) scale(1 1.03)" text-anchor="start" class="l">F</text>
<text transform="translate(1074.5 279.6) scale(1 1.03)" text-anchor="start" class="l">F</text>
<text transform="translate(1070.6 962.1) scale(1 1.03)" text-anchor="start" class="l">F</text>
<text transform="translate(529 615.2) scale(1 1.03)" text-anchor="middle" class="l">x</text>
<text transform="translate(529.2 1308.1) scale(1 1.03)" text-anchor="middle" class="l">T</text>
<text transform="translate(1601.6 1319.5) scale(1 1.03)" text-anchor="middle" class="l">N</text>
<text transform="translate(1590.3 625.5) scale(1.15 1)" text-anchor="middle" class="lam">λ</text>
<text transform="translate(127.15 67.8) scale(1 1)" text-anchor="start" class="p">(a)</text>
<text transform="translate(1188.15 67.8) scale(1 1)" text-anchor="start" class="p">(b)</text>
<text transform="translate(121.05 742.8) scale(1 1)" text-anchor="start" class="p">(c)</text>
<text transform="translate(1181.15 742.8) scale(1 1)" text-anchor="start" class="p">(d)</text>
</svg>
</body></html>
